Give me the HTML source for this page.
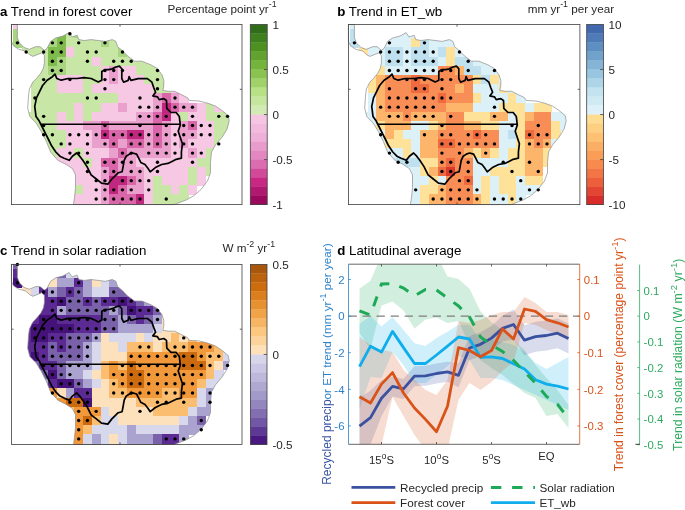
<!DOCTYPE html>
<html><head><meta charset="utf-8"><style>
html,body{margin:0;padding:0;background:#fff;overflow:hidden;}
svg{display:block;will-change:transform;}
text{font-family:"Liberation Sans", sans-serif;}
</style></head><body>
<svg width="685" height="510" viewBox="0 0 685 510">
<g transform="translate(0,0)">
<clipPath id="clipA"><polygon points="11.4,24.5 17.4,24.5 17.4,37.9 19.7,43.2 24.1,47.6 29.4,49.3 35.6,46.7 40.0,46.7 44.4,50.2 47.0,48.5 50.6,41.4 55.8,37.9 62.9,36.1 69.1,32.6 70.8,35.2 72.0,37.0 77.1,35.2 78.8,39.6 84.1,40.5 91.2,39.6 98.2,40.5 105.3,41.4 112.3,39.6 115.9,41.4 117.6,46.7 122.9,51.1 127.3,55.8 134.6,61.2 141.9,61.2 151.0,64.9 157.4,68.5 162.0,74.9 163.8,80.4 163.8,85.9 162.9,90.4 168.4,91.3 174.7,91.3 180.2,94.1 187.5,97.7 189.3,100.5 199.0,101.0 207.4,103.1 215.7,106.2 221.9,110.4 228.2,115.6 229.2,120.8 227.1,129.1 221.9,137.4 215.7,144.7 211.5,152.0 210.5,162.4 210.5,172.8 207.4,181.1 201.1,189.4 193.8,195.7 186.6,199.8 178.2,203.0 174.1,204.6 73.4,204.6 74.5,197.8 75.5,187.4 75.5,174.9 72.4,168.6 66.2,164.5 57.8,160.3 50.6,152.0 46.4,141.6 41.2,131.2 36.0,122.9 29.8,116.6 27.7,108.3 28.5,96.1 29.4,89.0 32.9,82.0 36.5,78.4 40.9,73.1 43.5,67.8 44.4,62.6 44.4,55.5 41.7,52.9 32.9,56.4 29.4,54.6 25.9,51.1 18.8,49.3 13.5,45.8 11.4,41.4"/></clipPath>
<g clip-path="url(#clipA)" shape-rendering="crispEdges">
<rect x="13.00" y="19.90" width="9.16" height="9.59" fill="#f6c8e3"/>
<rect x="13.00" y="29.09" width="9.16" height="9.59" fill="#a8d57f"/>
<rect x="48.02" y="29.09" width="9.16" height="9.59" fill="#a8d57f"/>
<rect x="56.78" y="29.09" width="9.16" height="9.59" fill="#7fbb4d"/>
<rect x="65.53" y="29.09" width="9.16" height="9.59" fill="#c8e6a5"/>
<rect x="74.28" y="29.09" width="9.16" height="9.59" fill="#a8d57f"/>
<rect x="83.04" y="29.09" width="9.16" height="9.59" fill="#c8e6a5"/>
<rect x="91.80" y="29.09" width="9.16" height="9.59" fill="#c8e6a5"/>
<rect x="100.55" y="29.09" width="9.16" height="9.59" fill="#c8e6a5"/>
<rect x="109.31" y="29.09" width="9.16" height="9.59" fill="#c8e6a5"/>
<rect x="13.00" y="38.27" width="9.16" height="9.59" fill="#a8d57f"/>
<rect x="21.76" y="38.27" width="9.16" height="9.59" fill="#a8d57f"/>
<rect x="30.51" y="38.27" width="9.16" height="9.59" fill="#c8e6a5"/>
<rect x="39.27" y="38.27" width="9.16" height="9.59" fill="#c8e6a5"/>
<rect x="48.02" y="38.27" width="9.16" height="9.59" fill="#a8d57f"/>
<rect x="56.78" y="38.27" width="9.16" height="9.59" fill="#7fbb4d"/>
<rect x="65.53" y="38.27" width="9.16" height="9.59" fill="#c8e6a5"/>
<rect x="74.28" y="38.27" width="9.16" height="9.59" fill="#c8e6a5"/>
<rect x="83.04" y="38.27" width="9.16" height="9.59" fill="#c8e6a5"/>
<rect x="91.80" y="38.27" width="9.16" height="9.59" fill="#c8e6a5"/>
<rect x="100.55" y="38.27" width="9.16" height="9.59" fill="#a8d57f"/>
<rect x="109.31" y="38.27" width="9.16" height="9.59" fill="#c8e6a5"/>
<rect x="118.06" y="38.27" width="9.16" height="9.59" fill="#c8e6a5"/>
<rect x="21.76" y="47.45" width="9.16" height="9.59" fill="#c8e6a5"/>
<rect x="30.51" y="47.45" width="9.16" height="9.59" fill="#c8e6a5"/>
<rect x="39.27" y="47.45" width="9.16" height="9.59" fill="#c8e6a5"/>
<rect x="48.02" y="47.45" width="9.16" height="9.59" fill="#7fbb4d"/>
<rect x="56.78" y="47.45" width="9.16" height="9.59" fill="#7fbb4d"/>
<rect x="65.53" y="47.45" width="9.16" height="9.59" fill="#f6c8e3"/>
<rect x="74.28" y="47.45" width="9.16" height="9.59" fill="#c8e6a5"/>
<rect x="83.04" y="47.45" width="9.16" height="9.59" fill="#c8e6a5"/>
<rect x="91.80" y="47.45" width="9.16" height="9.59" fill="#c8e6a5"/>
<rect x="100.55" y="47.45" width="9.16" height="9.59" fill="#c8e6a5"/>
<rect x="109.31" y="47.45" width="9.16" height="9.59" fill="#c8e6a5"/>
<rect x="118.06" y="47.45" width="9.16" height="9.59" fill="#a8d57f"/>
<rect x="126.82" y="47.45" width="9.16" height="9.59" fill="#c8e6a5"/>
<rect x="39.27" y="56.64" width="9.16" height="9.59" fill="#c8e6a5"/>
<rect x="48.02" y="56.64" width="9.16" height="9.59" fill="#7fbb4d"/>
<rect x="56.78" y="56.64" width="9.16" height="9.59" fill="#a8d57f"/>
<rect x="65.53" y="56.64" width="9.16" height="9.59" fill="#c8e6a5"/>
<rect x="74.28" y="56.64" width="9.16" height="9.59" fill="#c8e6a5"/>
<rect x="83.04" y="56.64" width="9.16" height="9.59" fill="#c8e6a5"/>
<rect x="91.80" y="56.64" width="9.16" height="9.59" fill="#f6c8e3"/>
<rect x="100.55" y="56.64" width="9.16" height="9.59" fill="#c8e6a5"/>
<rect x="109.31" y="56.64" width="9.16" height="9.59" fill="#c8e6a5"/>
<rect x="118.06" y="56.64" width="9.16" height="9.59" fill="#c8e6a5"/>
<rect x="126.82" y="56.64" width="9.16" height="9.59" fill="#c8e6a5"/>
<rect x="135.57" y="56.64" width="9.16" height="9.59" fill="#c8e6a5"/>
<rect x="144.33" y="56.64" width="9.16" height="9.59" fill="#c8e6a5"/>
<rect x="39.27" y="65.83" width="9.16" height="9.59" fill="#c8e6a5"/>
<rect x="48.02" y="65.83" width="9.16" height="9.59" fill="#a8d57f"/>
<rect x="56.78" y="65.83" width="9.16" height="9.59" fill="#a8d57f"/>
<rect x="65.53" y="65.83" width="9.16" height="9.59" fill="#c8e6a5"/>
<rect x="74.28" y="65.83" width="9.16" height="9.59" fill="#c8e6a5"/>
<rect x="83.04" y="65.83" width="9.16" height="9.59" fill="#c8e6a5"/>
<rect x="91.80" y="65.83" width="9.16" height="9.59" fill="#c8e6a5"/>
<rect x="100.55" y="65.83" width="9.16" height="9.59" fill="#f6c8e3"/>
<rect x="109.31" y="65.83" width="9.16" height="9.59" fill="#eaa0cd"/>
<rect x="118.06" y="65.83" width="9.16" height="9.59" fill="#f6c8e3"/>
<rect x="126.82" y="65.83" width="9.16" height="9.59" fill="#f6c8e3"/>
<rect x="135.57" y="65.83" width="9.16" height="9.59" fill="#c8e6a5"/>
<rect x="144.33" y="65.83" width="9.16" height="9.59" fill="#c8e6a5"/>
<rect x="153.08" y="65.83" width="9.16" height="9.59" fill="#c8e6a5"/>
<rect x="30.51" y="75.01" width="9.16" height="9.59" fill="#c8e6a5"/>
<rect x="39.27" y="75.01" width="9.16" height="9.59" fill="#c8e6a5"/>
<rect x="48.02" y="75.01" width="9.16" height="9.59" fill="#c8e6a5"/>
<rect x="56.78" y="75.01" width="9.16" height="9.59" fill="#f6c8e3"/>
<rect x="65.53" y="75.01" width="9.16" height="9.59" fill="#f6c8e3"/>
<rect x="74.28" y="75.01" width="9.16" height="9.59" fill="#f6c8e3"/>
<rect x="83.04" y="75.01" width="9.16" height="9.59" fill="#c8e6a5"/>
<rect x="91.80" y="75.01" width="9.16" height="9.59" fill="#c8e6a5"/>
<rect x="100.55" y="75.01" width="9.16" height="9.59" fill="#f6c8e3"/>
<rect x="109.31" y="75.01" width="9.16" height="9.59" fill="#eaa0cd"/>
<rect x="118.06" y="75.01" width="9.16" height="9.59" fill="#f6c8e3"/>
<rect x="126.82" y="75.01" width="9.16" height="9.59" fill="#f6c8e3"/>
<rect x="135.57" y="75.01" width="9.16" height="9.59" fill="#f6c8e3"/>
<rect x="144.33" y="75.01" width="9.16" height="9.59" fill="#c8e6a5"/>
<rect x="153.08" y="75.01" width="9.16" height="9.59" fill="#c8e6a5"/>
<rect x="161.84" y="75.01" width="9.16" height="9.59" fill="#c8e6a5"/>
<rect x="30.51" y="84.19" width="9.16" height="9.59" fill="#c8e6a5"/>
<rect x="39.27" y="84.19" width="9.16" height="9.59" fill="#c8e6a5"/>
<rect x="48.02" y="84.19" width="9.16" height="9.59" fill="#c8e6a5"/>
<rect x="56.78" y="84.19" width="9.16" height="9.59" fill="#f6c8e3"/>
<rect x="65.53" y="84.19" width="9.16" height="9.59" fill="#f6c8e3"/>
<rect x="74.28" y="84.19" width="9.16" height="9.59" fill="#f6c8e3"/>
<rect x="83.04" y="84.19" width="9.16" height="9.59" fill="#c8e6a5"/>
<rect x="91.80" y="84.19" width="9.16" height="9.59" fill="#f6c8e3"/>
<rect x="100.55" y="84.19" width="9.16" height="9.59" fill="#f6c8e3"/>
<rect x="109.31" y="84.19" width="9.16" height="9.59" fill="#f6c8e3"/>
<rect x="118.06" y="84.19" width="9.16" height="9.59" fill="#f6c8e3"/>
<rect x="126.82" y="84.19" width="9.16" height="9.59" fill="#f6c8e3"/>
<rect x="135.57" y="84.19" width="9.16" height="9.59" fill="#f6c8e3"/>
<rect x="144.33" y="84.19" width="9.16" height="9.59" fill="#f6c8e3"/>
<rect x="153.08" y="84.19" width="9.16" height="9.59" fill="#c8e6a5"/>
<rect x="161.84" y="84.19" width="9.16" height="9.59" fill="#c8e6a5"/>
<rect x="170.59" y="84.19" width="9.16" height="9.59" fill="#f6c8e3"/>
<rect x="30.51" y="93.38" width="9.16" height="9.59" fill="#c8e6a5"/>
<rect x="39.27" y="93.38" width="9.16" height="9.59" fill="#c8e6a5"/>
<rect x="48.02" y="93.38" width="9.16" height="9.59" fill="#c8e6a5"/>
<rect x="56.78" y="93.38" width="9.16" height="9.59" fill="#c8e6a5"/>
<rect x="65.53" y="93.38" width="9.16" height="9.59" fill="#c8e6a5"/>
<rect x="74.28" y="93.38" width="9.16" height="9.59" fill="#c8e6a5"/>
<rect x="83.04" y="93.38" width="9.16" height="9.59" fill="#c8e6a5"/>
<rect x="91.80" y="93.38" width="9.16" height="9.59" fill="#c8e6a5"/>
<rect x="100.55" y="93.38" width="9.16" height="9.59" fill="#c8e6a5"/>
<rect x="109.31" y="93.38" width="9.16" height="9.59" fill="#c8e6a5"/>
<rect x="118.06" y="93.38" width="9.16" height="9.59" fill="#f6c8e3"/>
<rect x="126.82" y="93.38" width="9.16" height="9.59" fill="#f6c8e3"/>
<rect x="135.57" y="93.38" width="9.16" height="9.59" fill="#f6c8e3"/>
<rect x="144.33" y="93.38" width="9.16" height="9.59" fill="#f6c8e3"/>
<rect x="153.08" y="93.38" width="9.16" height="9.59" fill="#eaa0cd"/>
<rect x="161.84" y="93.38" width="9.16" height="9.59" fill="#d866a8"/>
<rect x="170.59" y="93.38" width="9.16" height="9.59" fill="#eaa0cd"/>
<rect x="179.35" y="93.38" width="9.16" height="9.59" fill="#f6c8e3"/>
<rect x="30.51" y="102.56" width="9.16" height="9.59" fill="#c8e6a5"/>
<rect x="39.27" y="102.56" width="9.16" height="9.59" fill="#c8e6a5"/>
<rect x="48.02" y="102.56" width="9.16" height="9.59" fill="#c8e6a5"/>
<rect x="56.78" y="102.56" width="9.16" height="9.59" fill="#c8e6a5"/>
<rect x="65.53" y="102.56" width="9.16" height="9.59" fill="#c8e6a5"/>
<rect x="74.28" y="102.56" width="9.16" height="9.59" fill="#f6c8e3"/>
<rect x="83.04" y="102.56" width="9.16" height="9.59" fill="#c8e6a5"/>
<rect x="91.80" y="102.56" width="9.16" height="9.59" fill="#c8e6a5"/>
<rect x="100.55" y="102.56" width="9.16" height="9.59" fill="#f6c8e3"/>
<rect x="109.31" y="102.56" width="9.16" height="9.59" fill="#f6c8e3"/>
<rect x="118.06" y="102.56" width="9.16" height="9.59" fill="#eaa0cd"/>
<rect x="126.82" y="102.56" width="9.16" height="9.59" fill="#f6c8e3"/>
<rect x="135.57" y="102.56" width="9.16" height="9.59" fill="#f6c8e3"/>
<rect x="144.33" y="102.56" width="9.16" height="9.59" fill="#f6c8e3"/>
<rect x="153.08" y="102.56" width="9.16" height="9.59" fill="#eaa0cd"/>
<rect x="161.84" y="102.56" width="9.16" height="9.59" fill="#c0287f"/>
<rect x="170.59" y="102.56" width="9.16" height="9.59" fill="#d866a8"/>
<rect x="179.35" y="102.56" width="9.16" height="9.59" fill="#eaa0cd"/>
<rect x="188.10" y="102.56" width="9.16" height="9.59" fill="#eaa0cd"/>
<rect x="196.86" y="102.56" width="9.16" height="9.59" fill="#f6c8e3"/>
<rect x="205.61" y="102.56" width="9.16" height="9.59" fill="#c8e6a5"/>
<rect x="214.37" y="102.56" width="9.16" height="9.59" fill="#f6c8e3"/>
<rect x="21.76" y="111.75" width="9.16" height="9.59" fill="#c8e6a5"/>
<rect x="30.51" y="111.75" width="9.16" height="9.59" fill="#c8e6a5"/>
<rect x="39.27" y="111.75" width="9.16" height="9.59" fill="#c8e6a5"/>
<rect x="48.02" y="111.75" width="9.16" height="9.59" fill="#c8e6a5"/>
<rect x="56.78" y="111.75" width="9.16" height="9.59" fill="#f6c8e3"/>
<rect x="65.53" y="111.75" width="9.16" height="9.59" fill="#c8e6a5"/>
<rect x="74.28" y="111.75" width="9.16" height="9.59" fill="#f6c8e3"/>
<rect x="83.04" y="111.75" width="9.16" height="9.59" fill="#c8e6a5"/>
<rect x="91.80" y="111.75" width="9.16" height="9.59" fill="#f6c8e3"/>
<rect x="100.55" y="111.75" width="9.16" height="9.59" fill="#f6c8e3"/>
<rect x="109.31" y="111.75" width="9.16" height="9.59" fill="#f6c8e3"/>
<rect x="118.06" y="111.75" width="9.16" height="9.59" fill="#f6c8e3"/>
<rect x="126.82" y="111.75" width="9.16" height="9.59" fill="#f6c8e3"/>
<rect x="135.57" y="111.75" width="9.16" height="9.59" fill="#eaa0cd"/>
<rect x="144.33" y="111.75" width="9.16" height="9.59" fill="#eaa0cd"/>
<rect x="153.08" y="111.75" width="9.16" height="9.59" fill="#d866a8"/>
<rect x="161.84" y="111.75" width="9.16" height="9.59" fill="#c0287f"/>
<rect x="170.59" y="111.75" width="9.16" height="9.59" fill="#f6c8e3"/>
<rect x="179.35" y="111.75" width="9.16" height="9.59" fill="#c8e6a5"/>
<rect x="188.10" y="111.75" width="9.16" height="9.59" fill="#f6c8e3"/>
<rect x="196.86" y="111.75" width="9.16" height="9.59" fill="#f6c8e3"/>
<rect x="205.61" y="111.75" width="9.16" height="9.59" fill="#c8e6a5"/>
<rect x="214.37" y="111.75" width="9.16" height="9.59" fill="#c8e6a5"/>
<rect x="223.12" y="111.75" width="9.16" height="9.59" fill="#c8e6a5"/>
<rect x="30.51" y="120.94" width="9.16" height="9.59" fill="#c8e6a5"/>
<rect x="39.27" y="120.94" width="9.16" height="9.59" fill="#c8e6a5"/>
<rect x="48.02" y="120.94" width="9.16" height="9.59" fill="#c8e6a5"/>
<rect x="56.78" y="120.94" width="9.16" height="9.59" fill="#f6c8e3"/>
<rect x="65.53" y="120.94" width="9.16" height="9.59" fill="#f6c8e3"/>
<rect x="74.28" y="120.94" width="9.16" height="9.59" fill="#f6c8e3"/>
<rect x="83.04" y="120.94" width="9.16" height="9.59" fill="#eaa0cd"/>
<rect x="91.80" y="120.94" width="9.16" height="9.59" fill="#eaa0cd"/>
<rect x="100.55" y="120.94" width="9.16" height="9.59" fill="#d866a8"/>
<rect x="109.31" y="120.94" width="9.16" height="9.59" fill="#eaa0cd"/>
<rect x="118.06" y="120.94" width="9.16" height="9.59" fill="#eaa0cd"/>
<rect x="126.82" y="120.94" width="9.16" height="9.59" fill="#eaa0cd"/>
<rect x="135.57" y="120.94" width="9.16" height="9.59" fill="#eaa0cd"/>
<rect x="144.33" y="120.94" width="9.16" height="9.59" fill="#eaa0cd"/>
<rect x="153.08" y="120.94" width="9.16" height="9.59" fill="#d866a8"/>
<rect x="161.84" y="120.94" width="9.16" height="9.59" fill="#eaa0cd"/>
<rect x="170.59" y="120.94" width="9.16" height="9.59" fill="#f6c8e3"/>
<rect x="179.35" y="120.94" width="9.16" height="9.59" fill="#eaa0cd"/>
<rect x="188.10" y="120.94" width="9.16" height="9.59" fill="#d866a8"/>
<rect x="196.86" y="120.94" width="9.16" height="9.59" fill="#f6c8e3"/>
<rect x="205.61" y="120.94" width="9.16" height="9.59" fill="#f6c8e3"/>
<rect x="214.37" y="120.94" width="9.16" height="9.59" fill="#c8e6a5"/>
<rect x="223.12" y="120.94" width="9.16" height="9.59" fill="#c8e6a5"/>
<rect x="39.27" y="130.12" width="9.16" height="9.59" fill="#c8e6a5"/>
<rect x="48.02" y="130.12" width="9.16" height="9.59" fill="#c8e6a5"/>
<rect x="56.78" y="130.12" width="9.16" height="9.59" fill="#c8e6a5"/>
<rect x="65.53" y="130.12" width="9.16" height="9.59" fill="#f6c8e3"/>
<rect x="74.28" y="130.12" width="9.16" height="9.59" fill="#f6c8e3"/>
<rect x="83.04" y="130.12" width="9.16" height="9.59" fill="#f6c8e3"/>
<rect x="91.80" y="130.12" width="9.16" height="9.59" fill="#eaa0cd"/>
<rect x="100.55" y="130.12" width="9.16" height="9.59" fill="#c0287f"/>
<rect x="109.31" y="130.12" width="9.16" height="9.59" fill="#d866a8"/>
<rect x="118.06" y="130.12" width="9.16" height="9.59" fill="#d866a8"/>
<rect x="126.82" y="130.12" width="9.16" height="9.59" fill="#c0287f"/>
<rect x="135.57" y="130.12" width="9.16" height="9.59" fill="#c0287f"/>
<rect x="144.33" y="130.12" width="9.16" height="9.59" fill="#eaa0cd"/>
<rect x="153.08" y="130.12" width="9.16" height="9.59" fill="#d866a8"/>
<rect x="161.84" y="130.12" width="9.16" height="9.59" fill="#eaa0cd"/>
<rect x="170.59" y="130.12" width="9.16" height="9.59" fill="#f6c8e3"/>
<rect x="179.35" y="130.12" width="9.16" height="9.59" fill="#eaa0cd"/>
<rect x="188.10" y="130.12" width="9.16" height="9.59" fill="#eaa0cd"/>
<rect x="196.86" y="130.12" width="9.16" height="9.59" fill="#f6c8e3"/>
<rect x="205.61" y="130.12" width="9.16" height="9.59" fill="#f6c8e3"/>
<rect x="214.37" y="130.12" width="9.16" height="9.59" fill="#c8e6a5"/>
<rect x="223.12" y="130.12" width="9.16" height="9.59" fill="#c8e6a5"/>
<rect x="39.27" y="139.31" width="9.16" height="9.59" fill="#c8e6a5"/>
<rect x="48.02" y="139.31" width="9.16" height="9.59" fill="#c8e6a5"/>
<rect x="56.78" y="139.31" width="9.16" height="9.59" fill="#c8e6a5"/>
<rect x="65.53" y="139.31" width="9.16" height="9.59" fill="#f6c8e3"/>
<rect x="74.28" y="139.31" width="9.16" height="9.59" fill="#f6c8e3"/>
<rect x="83.04" y="139.31" width="9.16" height="9.59" fill="#f6c8e3"/>
<rect x="91.80" y="139.31" width="9.16" height="9.59" fill="#eaa0cd"/>
<rect x="100.55" y="139.31" width="9.16" height="9.59" fill="#eaa0cd"/>
<rect x="109.31" y="139.31" width="9.16" height="9.59" fill="#d866a8"/>
<rect x="118.06" y="139.31" width="9.16" height="9.59" fill="#eaa0cd"/>
<rect x="126.82" y="139.31" width="9.16" height="9.59" fill="#d866a8"/>
<rect x="135.57" y="139.31" width="9.16" height="9.59" fill="#d866a8"/>
<rect x="144.33" y="139.31" width="9.16" height="9.59" fill="#eaa0cd"/>
<rect x="153.08" y="139.31" width="9.16" height="9.59" fill="#d866a8"/>
<rect x="161.84" y="139.31" width="9.16" height="9.59" fill="#eaa0cd"/>
<rect x="170.59" y="139.31" width="9.16" height="9.59" fill="#f6c8e3"/>
<rect x="179.35" y="139.31" width="9.16" height="9.59" fill="#eaa0cd"/>
<rect x="188.10" y="139.31" width="9.16" height="9.59" fill="#f6c8e3"/>
<rect x="196.86" y="139.31" width="9.16" height="9.59" fill="#f6c8e3"/>
<rect x="205.61" y="139.31" width="9.16" height="9.59" fill="#f6c8e3"/>
<rect x="214.37" y="139.31" width="9.16" height="9.59" fill="#c8e6a5"/>
<rect x="48.02" y="148.49" width="9.16" height="9.59" fill="#c8e6a5"/>
<rect x="56.78" y="148.49" width="9.16" height="9.59" fill="#f6c8e3"/>
<rect x="65.53" y="148.49" width="9.16" height="9.59" fill="#f6c8e3"/>
<rect x="74.28" y="148.49" width="9.16" height="9.59" fill="#c8e6a5"/>
<rect x="83.04" y="148.49" width="9.16" height="9.59" fill="#f6c8e3"/>
<rect x="91.80" y="148.49" width="9.16" height="9.59" fill="#f6c8e3"/>
<rect x="100.55" y="148.49" width="9.16" height="9.59" fill="#f6c8e3"/>
<rect x="109.31" y="148.49" width="9.16" height="9.59" fill="#eaa0cd"/>
<rect x="118.06" y="148.49" width="9.16" height="9.59" fill="#d866a8"/>
<rect x="126.82" y="148.49" width="9.16" height="9.59" fill="#eaa0cd"/>
<rect x="135.57" y="148.49" width="9.16" height="9.59" fill="#eaa0cd"/>
<rect x="144.33" y="148.49" width="9.16" height="9.59" fill="#eaa0cd"/>
<rect x="153.08" y="148.49" width="9.16" height="9.59" fill="#eaa0cd"/>
<rect x="161.84" y="148.49" width="9.16" height="9.59" fill="#eaa0cd"/>
<rect x="170.59" y="148.49" width="9.16" height="9.59" fill="#f6c8e3"/>
<rect x="179.35" y="148.49" width="9.16" height="9.59" fill="#f6c8e3"/>
<rect x="188.10" y="148.49" width="9.16" height="9.59" fill="#eaa0cd"/>
<rect x="196.86" y="148.49" width="9.16" height="9.59" fill="#f6c8e3"/>
<rect x="205.61" y="148.49" width="9.16" height="9.59" fill="#c8e6a5"/>
<rect x="48.02" y="157.68" width="9.16" height="9.59" fill="#c8e6a5"/>
<rect x="56.78" y="157.68" width="9.16" height="9.59" fill="#f6c8e3"/>
<rect x="65.53" y="157.68" width="9.16" height="9.59" fill="#f6c8e3"/>
<rect x="74.28" y="157.68" width="9.16" height="9.59" fill="#f6c8e3"/>
<rect x="83.04" y="157.68" width="9.16" height="9.59" fill="#c8e6a5"/>
<rect x="91.80" y="157.68" width="9.16" height="9.59" fill="#f6c8e3"/>
<rect x="100.55" y="157.68" width="9.16" height="9.59" fill="#d866a8"/>
<rect x="109.31" y="157.68" width="9.16" height="9.59" fill="#d866a8"/>
<rect x="118.06" y="157.68" width="9.16" height="9.59" fill="#eaa0cd"/>
<rect x="126.82" y="157.68" width="9.16" height="9.59" fill="#eaa0cd"/>
<rect x="135.57" y="157.68" width="9.16" height="9.59" fill="#f6c8e3"/>
<rect x="144.33" y="157.68" width="9.16" height="9.59" fill="#f6c8e3"/>
<rect x="153.08" y="157.68" width="9.16" height="9.59" fill="#f6c8e3"/>
<rect x="161.84" y="157.68" width="9.16" height="9.59" fill="#f6c8e3"/>
<rect x="170.59" y="157.68" width="9.16" height="9.59" fill="#f6c8e3"/>
<rect x="179.35" y="157.68" width="9.16" height="9.59" fill="#f6c8e3"/>
<rect x="188.10" y="157.68" width="9.16" height="9.59" fill="#f6c8e3"/>
<rect x="196.86" y="157.68" width="9.16" height="9.59" fill="#c8e6a5"/>
<rect x="205.61" y="157.68" width="9.16" height="9.59" fill="#c8e6a5"/>
<rect x="65.53" y="166.86" width="9.16" height="9.59" fill="#f6c8e3"/>
<rect x="74.28" y="166.86" width="9.16" height="9.59" fill="#f6c8e3"/>
<rect x="83.04" y="166.86" width="9.16" height="9.59" fill="#f6c8e3"/>
<rect x="91.80" y="166.86" width="9.16" height="9.59" fill="#f6c8e3"/>
<rect x="100.55" y="166.86" width="9.16" height="9.59" fill="#eaa0cd"/>
<rect x="109.31" y="166.86" width="9.16" height="9.59" fill="#d866a8"/>
<rect x="118.06" y="166.86" width="9.16" height="9.59" fill="#eaa0cd"/>
<rect x="126.82" y="166.86" width="9.16" height="9.59" fill="#eaa0cd"/>
<rect x="135.57" y="166.86" width="9.16" height="9.59" fill="#eaa0cd"/>
<rect x="144.33" y="166.86" width="9.16" height="9.59" fill="#f6c8e3"/>
<rect x="153.08" y="166.86" width="9.16" height="9.59" fill="#f6c8e3"/>
<rect x="161.84" y="166.86" width="9.16" height="9.59" fill="#f6c8e3"/>
<rect x="170.59" y="166.86" width="9.16" height="9.59" fill="#f6c8e3"/>
<rect x="179.35" y="166.86" width="9.16" height="9.59" fill="#f6c8e3"/>
<rect x="188.10" y="166.86" width="9.16" height="9.59" fill="#c8e6a5"/>
<rect x="196.86" y="166.86" width="9.16" height="9.59" fill="#f6c8e3"/>
<rect x="205.61" y="166.86" width="9.16" height="9.59" fill="#c8e6a5"/>
<rect x="74.28" y="176.05" width="9.16" height="9.59" fill="#f6c8e3"/>
<rect x="83.04" y="176.05" width="9.16" height="9.59" fill="#f6c8e3"/>
<rect x="91.80" y="176.05" width="9.16" height="9.59" fill="#f6c8e3"/>
<rect x="100.55" y="176.05" width="9.16" height="9.59" fill="#eaa0cd"/>
<rect x="109.31" y="176.05" width="9.16" height="9.59" fill="#c0287f"/>
<rect x="118.06" y="176.05" width="9.16" height="9.59" fill="#c0287f"/>
<rect x="126.82" y="176.05" width="9.16" height="9.59" fill="#d866a8"/>
<rect x="135.57" y="176.05" width="9.16" height="9.59" fill="#eaa0cd"/>
<rect x="144.33" y="176.05" width="9.16" height="9.59" fill="#f6c8e3"/>
<rect x="153.08" y="176.05" width="9.16" height="9.59" fill="#c8e6a5"/>
<rect x="161.84" y="176.05" width="9.16" height="9.59" fill="#f6c8e3"/>
<rect x="170.59" y="176.05" width="9.16" height="9.59" fill="#f6c8e3"/>
<rect x="179.35" y="176.05" width="9.16" height="9.59" fill="#f6c8e3"/>
<rect x="188.10" y="176.05" width="9.16" height="9.59" fill="#c8e6a5"/>
<rect x="196.86" y="176.05" width="9.16" height="9.59" fill="#f6c8e3"/>
<rect x="74.28" y="185.23" width="9.16" height="9.59" fill="#c8e6a5"/>
<rect x="83.04" y="185.23" width="9.16" height="9.59" fill="#f6c8e3"/>
<rect x="91.80" y="185.23" width="9.16" height="9.59" fill="#f6c8e3"/>
<rect x="100.55" y="185.23" width="9.16" height="9.59" fill="#eaa0cd"/>
<rect x="109.31" y="185.23" width="9.16" height="9.59" fill="#c0287f"/>
<rect x="118.06" y="185.23" width="9.16" height="9.59" fill="#d866a8"/>
<rect x="126.82" y="185.23" width="9.16" height="9.59" fill="#eaa0cd"/>
<rect x="135.57" y="185.23" width="9.16" height="9.59" fill="#eaa0cd"/>
<rect x="144.33" y="185.23" width="9.16" height="9.59" fill="#f6c8e3"/>
<rect x="153.08" y="185.23" width="9.16" height="9.59" fill="#c8e6a5"/>
<rect x="161.84" y="185.23" width="9.16" height="9.59" fill="#c8e6a5"/>
<rect x="170.59" y="185.23" width="9.16" height="9.59" fill="#f6c8e3"/>
<rect x="179.35" y="185.23" width="9.16" height="9.59" fill="#c8e6a5"/>
<rect x="188.10" y="185.23" width="9.16" height="9.59" fill="#f6c8e3"/>
<rect x="74.28" y="194.42" width="9.16" height="11.59" fill="#f6c8e3"/>
<rect x="83.04" y="194.42" width="9.16" height="11.59" fill="#f6c8e3"/>
<rect x="91.80" y="194.42" width="9.16" height="11.59" fill="#f6c8e3"/>
<rect x="100.55" y="194.42" width="9.16" height="11.59" fill="#eaa0cd"/>
<rect x="109.31" y="194.42" width="9.16" height="11.59" fill="#d866a8"/>
<rect x="118.06" y="194.42" width="9.16" height="11.59" fill="#d866a8"/>
<rect x="126.82" y="194.42" width="9.16" height="11.59" fill="#d866a8"/>
<rect x="135.57" y="194.42" width="9.16" height="11.59" fill="#c0287f"/>
<rect x="144.33" y="194.42" width="9.16" height="11.59" fill="#f6c8e3"/>
<rect x="153.08" y="194.42" width="9.16" height="11.59" fill="#c8e6a5"/>
<rect x="161.84" y="194.42" width="9.16" height="11.59" fill="#c8e6a5"/>
<rect x="170.59" y="194.42" width="9.16" height="11.59" fill="#c8e6a5"/>
<rect x="179.35" y="194.42" width="9.16" height="11.59" fill="#c8e6a5"/>
</g>
<polygon points="11.4,24.5 17.4,24.5 17.4,37.9 19.7,43.2 24.1,47.6 29.4,49.3 35.6,46.7 40.0,46.7 44.4,50.2 47.0,48.5 50.6,41.4 55.8,37.9 62.9,36.1 69.1,32.6 70.8,35.2 72.0,37.0 77.1,35.2 78.8,39.6 84.1,40.5 91.2,39.6 98.2,40.5 105.3,41.4 112.3,39.6 115.9,41.4 117.6,46.7 122.9,51.1 127.3,55.8 134.6,61.2 141.9,61.2 151.0,64.9 157.4,68.5 162.0,74.9 163.8,80.4 163.8,85.9 162.9,90.4 168.4,91.3 174.7,91.3 180.2,94.1 187.5,97.7 189.3,100.5 199.0,101.0 207.4,103.1 215.7,106.2 221.9,110.4 228.2,115.6 229.2,120.8 227.1,129.1 221.9,137.4 215.7,144.7 211.5,152.0 210.5,162.4 210.5,172.8 207.4,181.1 201.1,189.4 193.8,195.7 186.6,199.8 178.2,203.0 174.1,204.6 73.4,204.6 74.5,197.8 75.5,187.4 75.5,174.9 72.4,168.6 66.2,164.5 57.8,160.3 50.6,152.0 46.4,141.6 41.2,131.2 36.0,122.9 29.8,116.6 27.7,108.3 28.5,96.1 29.4,89.0 32.9,82.0 36.5,78.4 40.9,73.1 43.5,67.8 44.4,62.6 44.4,55.5 41.7,52.9 32.9,56.4 29.4,54.6 25.9,51.1 18.8,49.3 13.5,45.8 11.4,41.4" fill="none" stroke="#8c8c8c" stroke-width="0.7"/>
<polygon points="34.7,106.7 36.5,97.9 39.1,92.6 42.6,85.5 47.1,80.2 52.4,76.7 55.0,74.1 56.8,78.5 61.2,80.2 68.2,78.5 77.1,78.5 84.1,77.6 91.2,78.5 94.7,80.2 98.2,82.0 101.8,80.2 101.8,71.4 105.3,69.6 108.8,69.6 112.3,68.8 115.9,67.0 119.4,66.1 121.8,68.8 121.8,71.3 121.8,78.6 123.6,82.2 128.2,80.4 129.1,76.7 130.9,80.4 138.2,78.6 147.4,78.6 151.9,82.2 153.8,87.7 155.6,92.3 152.8,95.9 157.4,96.8 159.2,99.6 163.8,98.6 166.5,100.5 166.8,108.3 171.0,112.5 176.2,112.5 179.3,116.6 180.3,125.0 178.2,131.2 180.3,137.4 182.4,143.7 181.4,152.0 181.4,158.2 176.2,159.3 172.0,161.4 167.8,163.4 161.6,164.5 155.4,167.6 150.2,171.8 148.1,168.6 145.0,164.5 140.8,162.4 138.7,158.2 136.6,154.1 132.5,153.0 129.4,154.1 126.2,156.2 124.2,160.3 123.1,166.6 122.1,171.8 118.2,172.8 111.9,179.0 107.8,184.2 101.5,183.2 96.3,179.0 91.1,174.9 87.0,166.6 82.8,160.3 79.7,156.2 76.6,153.0 72.4,156.2 69.3,160.3 64.1,158.2 59.9,156.2 55.8,152.0 51.6,145.8 48.5,139.5 45.4,133.3 42.2,127.0 39.1,120.8 36.0,116.6 35.0,108.3" fill="none" stroke="#000" stroke-width="1.7" stroke-linejoin="round"/>
<line x1="40.5" y1="124.3" x2="180.0" y2="124.3" stroke="#000" stroke-width="1.5"/>
<circle cx="69.93" cy="33.69" r="1.7" fill="#000"/>
<circle cx="17.40" cy="42.87" r="1.7" fill="#000"/>
<circle cx="52.42" cy="42.87" r="1.7" fill="#000"/>
<circle cx="61.18" cy="42.87" r="1.7" fill="#000"/>
<circle cx="78.69" cy="42.87" r="1.7" fill="#000"/>
<circle cx="104.95" cy="42.87" r="1.7" fill="#000"/>
<circle cx="26.16" cy="52.05" r="1.7" fill="#000"/>
<circle cx="43.66" cy="52.05" r="1.7" fill="#000"/>
<circle cx="52.42" cy="52.05" r="1.7" fill="#000"/>
<circle cx="61.18" cy="52.05" r="1.7" fill="#000"/>
<circle cx="87.44" cy="52.05" r="1.7" fill="#000"/>
<circle cx="96.19" cy="52.05" r="1.7" fill="#000"/>
<circle cx="122.46" cy="52.05" r="1.7" fill="#000"/>
<circle cx="52.42" cy="61.24" r="1.7" fill="#000"/>
<circle cx="61.18" cy="61.24" r="1.7" fill="#000"/>
<circle cx="87.44" cy="61.24" r="1.7" fill="#000"/>
<circle cx="113.71" cy="61.24" r="1.7" fill="#000"/>
<circle cx="122.46" cy="61.24" r="1.7" fill="#000"/>
<circle cx="131.22" cy="61.24" r="1.7" fill="#000"/>
<circle cx="52.42" cy="70.43" r="1.7" fill="#000"/>
<circle cx="61.18" cy="70.43" r="1.7" fill="#000"/>
<circle cx="104.95" cy="70.43" r="1.7" fill="#000"/>
<circle cx="113.71" cy="70.43" r="1.7" fill="#000"/>
<circle cx="122.46" cy="70.43" r="1.7" fill="#000"/>
<circle cx="157.48" cy="70.43" r="1.7" fill="#000"/>
<circle cx="43.66" cy="79.61" r="1.7" fill="#000"/>
<circle cx="69.93" cy="79.61" r="1.7" fill="#000"/>
<circle cx="104.95" cy="79.61" r="1.7" fill="#000"/>
<circle cx="113.71" cy="79.61" r="1.7" fill="#000"/>
<circle cx="157.48" cy="79.61" r="1.7" fill="#000"/>
<circle cx="104.95" cy="88.80" r="1.7" fill="#000"/>
<circle cx="157.48" cy="88.80" r="1.7" fill="#000"/>
<circle cx="34.91" cy="97.98" r="1.7" fill="#000"/>
<circle cx="87.44" cy="97.98" r="1.7" fill="#000"/>
<circle cx="96.19" cy="97.98" r="1.7" fill="#000"/>
<circle cx="139.97" cy="97.98" r="1.7" fill="#000"/>
<circle cx="174.99" cy="97.98" r="1.7" fill="#000"/>
<circle cx="139.97" cy="107.17" r="1.7" fill="#000"/>
<circle cx="148.73" cy="107.17" r="1.7" fill="#000"/>
<circle cx="157.48" cy="107.17" r="1.7" fill="#000"/>
<circle cx="174.99" cy="107.17" r="1.7" fill="#000"/>
<circle cx="183.75" cy="107.17" r="1.7" fill="#000"/>
<circle cx="192.50" cy="107.17" r="1.7" fill="#000"/>
<circle cx="43.66" cy="116.35" r="1.7" fill="#000"/>
<circle cx="139.97" cy="116.35" r="1.7" fill="#000"/>
<circle cx="148.73" cy="116.35" r="1.7" fill="#000"/>
<circle cx="157.48" cy="116.35" r="1.7" fill="#000"/>
<circle cx="166.24" cy="116.35" r="1.7" fill="#000"/>
<circle cx="192.50" cy="116.35" r="1.7" fill="#000"/>
<circle cx="218.77" cy="116.35" r="1.7" fill="#000"/>
<circle cx="227.52" cy="116.35" r="1.7" fill="#000"/>
<circle cx="43.66" cy="125.54" r="1.7" fill="#000"/>
<circle cx="104.95" cy="125.54" r="1.7" fill="#000"/>
<circle cx="139.97" cy="125.54" r="1.7" fill="#000"/>
<circle cx="166.24" cy="125.54" r="1.7" fill="#000"/>
<circle cx="183.75" cy="125.54" r="1.7" fill="#000"/>
<circle cx="192.50" cy="125.54" r="1.7" fill="#000"/>
<circle cx="201.26" cy="125.54" r="1.7" fill="#000"/>
<circle cx="210.01" cy="125.54" r="1.7" fill="#000"/>
<circle cx="43.66" cy="134.72" r="1.7" fill="#000"/>
<circle cx="52.42" cy="134.72" r="1.7" fill="#000"/>
<circle cx="69.93" cy="134.72" r="1.7" fill="#000"/>
<circle cx="78.69" cy="134.72" r="1.7" fill="#000"/>
<circle cx="87.44" cy="134.72" r="1.7" fill="#000"/>
<circle cx="96.19" cy="134.72" r="1.7" fill="#000"/>
<circle cx="104.95" cy="134.72" r="1.7" fill="#000"/>
<circle cx="113.71" cy="134.72" r="1.7" fill="#000"/>
<circle cx="122.46" cy="134.72" r="1.7" fill="#000"/>
<circle cx="131.22" cy="134.72" r="1.7" fill="#000"/>
<circle cx="139.97" cy="134.72" r="1.7" fill="#000"/>
<circle cx="148.73" cy="134.72" r="1.7" fill="#000"/>
<circle cx="157.48" cy="134.72" r="1.7" fill="#000"/>
<circle cx="166.24" cy="134.72" r="1.7" fill="#000"/>
<circle cx="174.99" cy="134.72" r="1.7" fill="#000"/>
<circle cx="183.75" cy="134.72" r="1.7" fill="#000"/>
<circle cx="192.50" cy="134.72" r="1.7" fill="#000"/>
<circle cx="201.26" cy="134.72" r="1.7" fill="#000"/>
<circle cx="210.01" cy="134.72" r="1.7" fill="#000"/>
<circle cx="61.18" cy="143.91" r="1.7" fill="#000"/>
<circle cx="69.93" cy="143.91" r="1.7" fill="#000"/>
<circle cx="87.44" cy="143.91" r="1.7" fill="#000"/>
<circle cx="104.95" cy="143.91" r="1.7" fill="#000"/>
<circle cx="113.71" cy="143.91" r="1.7" fill="#000"/>
<circle cx="131.22" cy="143.91" r="1.7" fill="#000"/>
<circle cx="139.97" cy="143.91" r="1.7" fill="#000"/>
<circle cx="148.73" cy="143.91" r="1.7" fill="#000"/>
<circle cx="157.48" cy="143.91" r="1.7" fill="#000"/>
<circle cx="166.24" cy="143.91" r="1.7" fill="#000"/>
<circle cx="174.99" cy="143.91" r="1.7" fill="#000"/>
<circle cx="183.75" cy="143.91" r="1.7" fill="#000"/>
<circle cx="192.50" cy="143.91" r="1.7" fill="#000"/>
<circle cx="218.77" cy="143.91" r="1.7" fill="#000"/>
<circle cx="69.93" cy="153.09" r="1.7" fill="#000"/>
<circle cx="78.69" cy="153.09" r="1.7" fill="#000"/>
<circle cx="87.44" cy="153.09" r="1.7" fill="#000"/>
<circle cx="122.46" cy="153.09" r="1.7" fill="#000"/>
<circle cx="131.22" cy="153.09" r="1.7" fill="#000"/>
<circle cx="148.73" cy="153.09" r="1.7" fill="#000"/>
<circle cx="157.48" cy="153.09" r="1.7" fill="#000"/>
<circle cx="166.24" cy="153.09" r="1.7" fill="#000"/>
<circle cx="174.99" cy="153.09" r="1.7" fill="#000"/>
<circle cx="192.50" cy="153.09" r="1.7" fill="#000"/>
<circle cx="201.26" cy="153.09" r="1.7" fill="#000"/>
<circle cx="87.44" cy="162.28" r="1.7" fill="#000"/>
<circle cx="104.95" cy="162.28" r="1.7" fill="#000"/>
<circle cx="113.71" cy="162.28" r="1.7" fill="#000"/>
<circle cx="122.46" cy="162.28" r="1.7" fill="#000"/>
<circle cx="131.22" cy="162.28" r="1.7" fill="#000"/>
<circle cx="157.48" cy="162.28" r="1.7" fill="#000"/>
<circle cx="192.50" cy="162.28" r="1.7" fill="#000"/>
<circle cx="87.44" cy="171.46" r="1.7" fill="#000"/>
<circle cx="104.95" cy="171.46" r="1.7" fill="#000"/>
<circle cx="113.71" cy="171.46" r="1.7" fill="#000"/>
<circle cx="131.22" cy="171.46" r="1.7" fill="#000"/>
<circle cx="139.97" cy="171.46" r="1.7" fill="#000"/>
<circle cx="157.48" cy="171.46" r="1.7" fill="#000"/>
<circle cx="96.19" cy="180.65" r="1.7" fill="#000"/>
<circle cx="104.95" cy="180.65" r="1.7" fill="#000"/>
<circle cx="122.46" cy="180.65" r="1.7" fill="#000"/>
<circle cx="131.22" cy="180.65" r="1.7" fill="#000"/>
<circle cx="139.97" cy="180.65" r="1.7" fill="#000"/>
<circle cx="148.73" cy="180.65" r="1.7" fill="#000"/>
<circle cx="96.19" cy="189.83" r="1.7" fill="#000"/>
<circle cx="104.95" cy="189.83" r="1.7" fill="#000"/>
<circle cx="113.71" cy="189.83" r="1.7" fill="#000"/>
<circle cx="122.46" cy="189.83" r="1.7" fill="#000"/>
<circle cx="131.22" cy="189.83" r="1.7" fill="#000"/>
<circle cx="148.73" cy="189.83" r="1.7" fill="#000"/>
<circle cx="96.19" cy="199.02" r="1.7" fill="#000"/>
<circle cx="104.95" cy="199.02" r="1.7" fill="#000"/>
<circle cx="113.71" cy="199.02" r="1.7" fill="#000"/>
<circle cx="122.46" cy="199.02" r="1.7" fill="#000"/>
<circle cx="131.22" cy="199.02" r="1.7" fill="#000"/>
<circle cx="139.97" cy="199.02" r="1.7" fill="#000"/>
<circle cx="166.24" cy="199.02" r="1.7" fill="#000"/>
<rect x="11.4" y="24.5" width="230.6" height="180.1" fill="none" stroke="#404040" stroke-width="0.8"/>
<path d="M120,24.5v2.2M120,204.6v-2.2M11.4,89.3h2.2M242.0,89.3h-2.2" stroke="#404040" stroke-width="0.8"/>
</g>
<g transform="translate(337,0)">
<clipPath id="clipB"><polygon points="11.4,24.5 17.4,24.5 17.4,37.9 19.7,43.2 24.1,47.6 29.4,49.3 35.6,46.7 40.0,46.7 44.4,50.2 47.0,48.5 50.6,41.4 55.8,37.9 62.9,36.1 69.1,32.6 70.8,35.2 72.0,37.0 77.1,35.2 78.8,39.6 84.1,40.5 91.2,39.6 98.2,40.5 105.3,41.4 112.3,39.6 115.9,41.4 117.6,46.7 122.9,51.1 127.3,55.8 134.6,61.2 141.9,61.2 151.0,64.9 157.4,68.5 162.0,74.9 163.8,80.4 163.8,85.9 162.9,90.4 168.4,91.3 174.7,91.3 180.2,94.1 187.5,97.7 189.3,100.5 199.0,101.0 207.4,103.1 215.7,106.2 221.9,110.4 228.2,115.6 229.2,120.8 227.1,129.1 221.9,137.4 215.7,144.7 211.5,152.0 210.5,162.4 210.5,172.8 207.4,181.1 201.1,189.4 193.8,195.7 186.6,199.8 178.2,203.0 174.1,204.6 73.4,204.6 74.5,197.8 75.5,187.4 75.5,174.9 72.4,168.6 66.2,164.5 57.8,160.3 50.6,152.0 46.4,141.6 41.2,131.2 36.0,122.9 29.8,116.6 27.7,108.3 28.5,96.1 29.4,89.0 32.9,82.0 36.5,78.4 40.9,73.1 43.5,67.8 44.4,62.6 44.4,55.5 41.7,52.9 32.9,56.4 29.4,54.6 25.9,51.1 18.8,49.3 13.5,45.8 11.4,41.4"/></clipPath>
<g clip-path="url(#clipB)" shape-rendering="crispEdges">
<rect x="13.00" y="19.90" width="9.16" height="9.59" fill="#dcf0f7"/>
<rect x="13.00" y="29.09" width="9.16" height="9.59" fill="#bfe1ef"/>
<rect x="48.02" y="29.09" width="9.16" height="9.59" fill="#dcf0f7"/>
<rect x="56.78" y="29.09" width="9.16" height="9.59" fill="#dcf0f7"/>
<rect x="65.53" y="29.09" width="9.16" height="9.59" fill="#dcf0f7"/>
<rect x="74.28" y="29.09" width="9.16" height="9.59" fill="#dcf0f7"/>
<rect x="83.04" y="29.09" width="9.16" height="9.59" fill="#dcf0f7"/>
<rect x="91.80" y="29.09" width="9.16" height="9.59" fill="#dcf0f7"/>
<rect x="100.55" y="29.09" width="9.16" height="9.59" fill="#dcf0f7"/>
<rect x="109.31" y="29.09" width="9.16" height="9.59" fill="#dcf0f7"/>
<rect x="13.00" y="38.27" width="9.16" height="9.59" fill="#bfe1ef"/>
<rect x="21.76" y="38.27" width="9.16" height="9.59" fill="#dcf0f7"/>
<rect x="30.51" y="38.27" width="9.16" height="9.59" fill="#dcf0f7"/>
<rect x="39.27" y="38.27" width="9.16" height="9.59" fill="#dcf0f7"/>
<rect x="48.02" y="38.27" width="9.16" height="9.59" fill="#dcf0f7"/>
<rect x="56.78" y="38.27" width="9.16" height="9.59" fill="#dcf0f7"/>
<rect x="65.53" y="38.27" width="9.16" height="9.59" fill="#dcf0f7"/>
<rect x="74.28" y="38.27" width="9.16" height="9.59" fill="#fee29a"/>
<rect x="83.04" y="38.27" width="9.16" height="9.59" fill="#bfe1ef"/>
<rect x="91.80" y="38.27" width="9.16" height="9.59" fill="#dcf0f7"/>
<rect x="100.55" y="38.27" width="9.16" height="9.59" fill="#dcf0f7"/>
<rect x="109.31" y="38.27" width="9.16" height="9.59" fill="#dcf0f7"/>
<rect x="21.76" y="47.45" width="9.16" height="9.59" fill="#fee29a"/>
<rect x="30.51" y="47.45" width="9.16" height="9.59" fill="#dcf0f7"/>
<rect x="39.27" y="47.45" width="9.16" height="9.59" fill="#dcf0f7"/>
<rect x="48.02" y="47.45" width="9.16" height="9.59" fill="#bfe1ef"/>
<rect x="56.78" y="47.45" width="9.16" height="9.59" fill="#bfe1ef"/>
<rect x="65.53" y="47.45" width="9.16" height="9.59" fill="#dcf0f7"/>
<rect x="74.28" y="47.45" width="9.16" height="9.59" fill="#bfe1ef"/>
<rect x="83.04" y="47.45" width="9.16" height="9.59" fill="#bfe1ef"/>
<rect x="91.80" y="47.45" width="9.16" height="9.59" fill="#dcf0f7"/>
<rect x="100.55" y="47.45" width="9.16" height="9.59" fill="#bfe1ef"/>
<rect x="109.31" y="47.45" width="9.16" height="9.59" fill="#fee29a"/>
<rect x="118.06" y="47.45" width="9.16" height="9.59" fill="#dcf0f7"/>
<rect x="126.82" y="47.45" width="9.16" height="9.59" fill="#dcf0f7"/>
<rect x="39.27" y="56.64" width="9.16" height="9.59" fill="#dcf0f7"/>
<rect x="48.02" y="56.64" width="9.16" height="9.59" fill="#bfe1ef"/>
<rect x="56.78" y="56.64" width="9.16" height="9.59" fill="#bfe1ef"/>
<rect x="65.53" y="56.64" width="9.16" height="9.59" fill="#dcf0f7"/>
<rect x="74.28" y="56.64" width="9.16" height="9.59" fill="#bfe1ef"/>
<rect x="83.04" y="56.64" width="9.16" height="9.59" fill="#bfe1ef"/>
<rect x="91.80" y="56.64" width="9.16" height="9.59" fill="#bfe1ef"/>
<rect x="100.55" y="56.64" width="9.16" height="9.59" fill="#dcf0f7"/>
<rect x="109.31" y="56.64" width="9.16" height="9.59" fill="#fee29a"/>
<rect x="118.06" y="56.64" width="9.16" height="9.59" fill="#bfe1ef"/>
<rect x="126.82" y="56.64" width="9.16" height="9.59" fill="#bfe1ef"/>
<rect x="135.57" y="56.64" width="9.16" height="9.59" fill="#dcf0f7"/>
<rect x="144.33" y="56.64" width="9.16" height="9.59" fill="#dcf0f7"/>
<rect x="153.08" y="56.64" width="9.16" height="9.59" fill="#dcf0f7"/>
<rect x="39.27" y="65.83" width="9.16" height="9.59" fill="#fee29a"/>
<rect x="48.02" y="65.83" width="9.16" height="9.59" fill="#dcf0f7"/>
<rect x="56.78" y="65.83" width="9.16" height="9.59" fill="#dcf0f7"/>
<rect x="65.53" y="65.83" width="9.16" height="9.59" fill="#dcf0f7"/>
<rect x="74.28" y="65.83" width="9.16" height="9.59" fill="#dcf0f7"/>
<rect x="83.04" y="65.83" width="9.16" height="9.59" fill="#dcf0f7"/>
<rect x="91.80" y="65.83" width="9.16" height="9.59" fill="#dcf0f7"/>
<rect x="100.55" y="65.83" width="9.16" height="9.59" fill="#f88e55"/>
<rect x="109.31" y="65.83" width="9.16" height="9.59" fill="#f88e55"/>
<rect x="118.06" y="65.83" width="9.16" height="9.59" fill="#fdb56c"/>
<rect x="126.82" y="65.83" width="9.16" height="9.59" fill="#bfe1ef"/>
<rect x="135.57" y="65.83" width="9.16" height="9.59" fill="#bfe1ef"/>
<rect x="144.33" y="65.83" width="9.16" height="9.59" fill="#dcf0f7"/>
<rect x="153.08" y="65.83" width="9.16" height="9.59" fill="#dcf0f7"/>
<rect x="30.51" y="75.01" width="9.16" height="9.59" fill="#fee29a"/>
<rect x="39.27" y="75.01" width="9.16" height="9.59" fill="#fdb56c"/>
<rect x="48.02" y="75.01" width="9.16" height="9.59" fill="#f88e55"/>
<rect x="56.78" y="75.01" width="9.16" height="9.59" fill="#f88e55"/>
<rect x="65.53" y="75.01" width="9.16" height="9.59" fill="#f88e55"/>
<rect x="74.28" y="75.01" width="9.16" height="9.59" fill="#ef6a3f"/>
<rect x="83.04" y="75.01" width="9.16" height="9.59" fill="#f88e55"/>
<rect x="91.80" y="75.01" width="9.16" height="9.59" fill="#f88e55"/>
<rect x="100.55" y="75.01" width="9.16" height="9.59" fill="#f88e55"/>
<rect x="109.31" y="75.01" width="9.16" height="9.59" fill="#f88e55"/>
<rect x="118.06" y="75.01" width="9.16" height="9.59" fill="#f88e55"/>
<rect x="126.82" y="75.01" width="9.16" height="9.59" fill="#f88e55"/>
<rect x="135.57" y="75.01" width="9.16" height="9.59" fill="#fee29a"/>
<rect x="144.33" y="75.01" width="9.16" height="9.59" fill="#bfe1ef"/>
<rect x="153.08" y="75.01" width="9.16" height="9.59" fill="#fee29a"/>
<rect x="161.84" y="75.01" width="9.16" height="9.59" fill="#dcf0f7"/>
<rect x="30.51" y="84.19" width="9.16" height="9.59" fill="#fee29a"/>
<rect x="39.27" y="84.19" width="9.16" height="9.59" fill="#fdb56c"/>
<rect x="48.02" y="84.19" width="9.16" height="9.59" fill="#f88e55"/>
<rect x="56.78" y="84.19" width="9.16" height="9.59" fill="#f88e55"/>
<rect x="65.53" y="84.19" width="9.16" height="9.59" fill="#f88e55"/>
<rect x="74.28" y="84.19" width="9.16" height="9.59" fill="#ef6a3f"/>
<rect x="83.04" y="84.19" width="9.16" height="9.59" fill="#ef6a3f"/>
<rect x="91.80" y="84.19" width="9.16" height="9.59" fill="#f88e55"/>
<rect x="100.55" y="84.19" width="9.16" height="9.59" fill="#f88e55"/>
<rect x="109.31" y="84.19" width="9.16" height="9.59" fill="#f88e55"/>
<rect x="118.06" y="84.19" width="9.16" height="9.59" fill="#fdb56c"/>
<rect x="126.82" y="84.19" width="9.16" height="9.59" fill="#f88e55"/>
<rect x="135.57" y="84.19" width="9.16" height="9.59" fill="#dcf0f7"/>
<rect x="144.33" y="84.19" width="9.16" height="9.59" fill="#dcf0f7"/>
<rect x="153.08" y="84.19" width="9.16" height="9.59" fill="#dcf0f7"/>
<rect x="161.84" y="84.19" width="9.16" height="9.59" fill="#fee29a"/>
<rect x="170.59" y="84.19" width="9.16" height="9.59" fill="#dcf0f7"/>
<rect x="30.51" y="93.38" width="9.16" height="9.59" fill="#dcf0f7"/>
<rect x="39.27" y="93.38" width="9.16" height="9.59" fill="#fdb56c"/>
<rect x="48.02" y="93.38" width="9.16" height="9.59" fill="#f88e55"/>
<rect x="56.78" y="93.38" width="9.16" height="9.59" fill="#f88e55"/>
<rect x="65.53" y="93.38" width="9.16" height="9.59" fill="#f88e55"/>
<rect x="74.28" y="93.38" width="9.16" height="9.59" fill="#f88e55"/>
<rect x="83.04" y="93.38" width="9.16" height="9.59" fill="#f88e55"/>
<rect x="91.80" y="93.38" width="9.16" height="9.59" fill="#f88e55"/>
<rect x="100.55" y="93.38" width="9.16" height="9.59" fill="#ef6a3f"/>
<rect x="109.31" y="93.38" width="9.16" height="9.59" fill="#f88e55"/>
<rect x="118.06" y="93.38" width="9.16" height="9.59" fill="#f88e55"/>
<rect x="126.82" y="93.38" width="9.16" height="9.59" fill="#f88e55"/>
<rect x="135.57" y="93.38" width="9.16" height="9.59" fill="#fee29a"/>
<rect x="144.33" y="93.38" width="9.16" height="9.59" fill="#dcf0f7"/>
<rect x="153.08" y="93.38" width="9.16" height="9.59" fill="#dcf0f7"/>
<rect x="161.84" y="93.38" width="9.16" height="9.59" fill="#dcf0f7"/>
<rect x="170.59" y="93.38" width="9.16" height="9.59" fill="#fee29a"/>
<rect x="179.35" y="93.38" width="9.16" height="9.59" fill="#dcf0f7"/>
<rect x="30.51" y="102.56" width="9.16" height="9.59" fill="#dcf0f7"/>
<rect x="39.27" y="102.56" width="9.16" height="9.59" fill="#fdb56c"/>
<rect x="48.02" y="102.56" width="9.16" height="9.59" fill="#f88e55"/>
<rect x="56.78" y="102.56" width="9.16" height="9.59" fill="#f88e55"/>
<rect x="65.53" y="102.56" width="9.16" height="9.59" fill="#f88e55"/>
<rect x="74.28" y="102.56" width="9.16" height="9.59" fill="#f88e55"/>
<rect x="83.04" y="102.56" width="9.16" height="9.59" fill="#f88e55"/>
<rect x="91.80" y="102.56" width="9.16" height="9.59" fill="#f88e55"/>
<rect x="100.55" y="102.56" width="9.16" height="9.59" fill="#f88e55"/>
<rect x="109.31" y="102.56" width="9.16" height="9.59" fill="#fdb56c"/>
<rect x="118.06" y="102.56" width="9.16" height="9.59" fill="#fdb56c"/>
<rect x="126.82" y="102.56" width="9.16" height="9.59" fill="#fdb56c"/>
<rect x="135.57" y="102.56" width="9.16" height="9.59" fill="#dcf0f7"/>
<rect x="144.33" y="102.56" width="9.16" height="9.59" fill="#dcf0f7"/>
<rect x="153.08" y="102.56" width="9.16" height="9.59" fill="#dcf0f7"/>
<rect x="161.84" y="102.56" width="9.16" height="9.59" fill="#fee29a"/>
<rect x="170.59" y="102.56" width="9.16" height="9.59" fill="#fee29a"/>
<rect x="179.35" y="102.56" width="9.16" height="9.59" fill="#fee29a"/>
<rect x="188.10" y="102.56" width="9.16" height="9.59" fill="#dcf0f7"/>
<rect x="196.86" y="102.56" width="9.16" height="9.59" fill="#fee29a"/>
<rect x="205.61" y="102.56" width="9.16" height="9.59" fill="#fee29a"/>
<rect x="21.76" y="111.75" width="9.16" height="9.59" fill="#dcf0f7"/>
<rect x="30.51" y="111.75" width="9.16" height="9.59" fill="#dcf0f7"/>
<rect x="39.27" y="111.75" width="9.16" height="9.59" fill="#fdb56c"/>
<rect x="48.02" y="111.75" width="9.16" height="9.59" fill="#fdb56c"/>
<rect x="56.78" y="111.75" width="9.16" height="9.59" fill="#fdb56c"/>
<rect x="65.53" y="111.75" width="9.16" height="9.59" fill="#f88e55"/>
<rect x="74.28" y="111.75" width="9.16" height="9.59" fill="#fdb56c"/>
<rect x="83.04" y="111.75" width="9.16" height="9.59" fill="#fdb56c"/>
<rect x="91.80" y="111.75" width="9.16" height="9.59" fill="#fdb56c"/>
<rect x="100.55" y="111.75" width="9.16" height="9.59" fill="#fdb56c"/>
<rect x="109.31" y="111.75" width="9.16" height="9.59" fill="#f88e55"/>
<rect x="118.06" y="111.75" width="9.16" height="9.59" fill="#f88e55"/>
<rect x="126.82" y="111.75" width="9.16" height="9.59" fill="#fee29a"/>
<rect x="135.57" y="111.75" width="9.16" height="9.59" fill="#fee29a"/>
<rect x="144.33" y="111.75" width="9.16" height="9.59" fill="#fee29a"/>
<rect x="153.08" y="111.75" width="9.16" height="9.59" fill="#fdb56c"/>
<rect x="161.84" y="111.75" width="9.16" height="9.59" fill="#fdb56c"/>
<rect x="170.59" y="111.75" width="9.16" height="9.59" fill="#dcf0f7"/>
<rect x="179.35" y="111.75" width="9.16" height="9.59" fill="#fee29a"/>
<rect x="188.10" y="111.75" width="9.16" height="9.59" fill="#fdb56c"/>
<rect x="196.86" y="111.75" width="9.16" height="9.59" fill="#f88e55"/>
<rect x="205.61" y="111.75" width="9.16" height="9.59" fill="#f88e55"/>
<rect x="214.37" y="111.75" width="9.16" height="9.59" fill="#dcf0f7"/>
<rect x="223.12" y="111.75" width="9.16" height="9.59" fill="#dcf0f7"/>
<rect x="30.51" y="120.94" width="9.16" height="9.59" fill="#dcf0f7"/>
<rect x="39.27" y="120.94" width="9.16" height="9.59" fill="#fee29a"/>
<rect x="48.02" y="120.94" width="9.16" height="9.59" fill="#fdb56c"/>
<rect x="56.78" y="120.94" width="9.16" height="9.59" fill="#fdb56c"/>
<rect x="65.53" y="120.94" width="9.16" height="9.59" fill="#fdb56c"/>
<rect x="74.28" y="120.94" width="9.16" height="9.59" fill="#dcf0f7"/>
<rect x="83.04" y="120.94" width="9.16" height="9.59" fill="#dcf0f7"/>
<rect x="91.80" y="120.94" width="9.16" height="9.59" fill="#fee29a"/>
<rect x="100.55" y="120.94" width="9.16" height="9.59" fill="#fdb56c"/>
<rect x="109.31" y="120.94" width="9.16" height="9.59" fill="#f88e55"/>
<rect x="118.06" y="120.94" width="9.16" height="9.59" fill="#f88e55"/>
<rect x="126.82" y="120.94" width="9.16" height="9.59" fill="#fdb56c"/>
<rect x="135.57" y="120.94" width="9.16" height="9.59" fill="#fdb56c"/>
<rect x="144.33" y="120.94" width="9.16" height="9.59" fill="#fee29a"/>
<rect x="153.08" y="120.94" width="9.16" height="9.59" fill="#fee29a"/>
<rect x="161.84" y="120.94" width="9.16" height="9.59" fill="#dcf0f7"/>
<rect x="170.59" y="120.94" width="9.16" height="9.59" fill="#dcf0f7"/>
<rect x="179.35" y="120.94" width="9.16" height="9.59" fill="#fee29a"/>
<rect x="188.10" y="120.94" width="9.16" height="9.59" fill="#f88e55"/>
<rect x="196.86" y="120.94" width="9.16" height="9.59" fill="#f88e55"/>
<rect x="205.61" y="120.94" width="9.16" height="9.59" fill="#f88e55"/>
<rect x="214.37" y="120.94" width="9.16" height="9.59" fill="#fee29a"/>
<rect x="223.12" y="120.94" width="9.16" height="9.59" fill="#dcf0f7"/>
<rect x="30.51" y="130.12" width="9.16" height="9.59" fill="#dcf0f7"/>
<rect x="39.27" y="130.12" width="9.16" height="9.59" fill="#dcf0f7"/>
<rect x="48.02" y="130.12" width="9.16" height="9.59" fill="#fdb56c"/>
<rect x="56.78" y="130.12" width="9.16" height="9.59" fill="#fee29a"/>
<rect x="65.53" y="130.12" width="9.16" height="9.59" fill="#dcf0f7"/>
<rect x="74.28" y="130.12" width="9.16" height="9.59" fill="#dcf0f7"/>
<rect x="83.04" y="130.12" width="9.16" height="9.59" fill="#fdb56c"/>
<rect x="91.80" y="130.12" width="9.16" height="9.59" fill="#fdb56c"/>
<rect x="100.55" y="130.12" width="9.16" height="9.59" fill="#f88e55"/>
<rect x="109.31" y="130.12" width="9.16" height="9.59" fill="#f88e55"/>
<rect x="118.06" y="130.12" width="9.16" height="9.59" fill="#f88e55"/>
<rect x="126.82" y="130.12" width="9.16" height="9.59" fill="#f88e55"/>
<rect x="135.57" y="130.12" width="9.16" height="9.59" fill="#ef6a3f"/>
<rect x="144.33" y="130.12" width="9.16" height="9.59" fill="#f88e55"/>
<rect x="153.08" y="130.12" width="9.16" height="9.59" fill="#f88e55"/>
<rect x="161.84" y="130.12" width="9.16" height="9.59" fill="#dcf0f7"/>
<rect x="170.59" y="130.12" width="9.16" height="9.59" fill="#bfe1ef"/>
<rect x="179.35" y="130.12" width="9.16" height="9.59" fill="#fee29a"/>
<rect x="188.10" y="130.12" width="9.16" height="9.59" fill="#ef6a3f"/>
<rect x="196.86" y="130.12" width="9.16" height="9.59" fill="#f88e55"/>
<rect x="205.61" y="130.12" width="9.16" height="9.59" fill="#f88e55"/>
<rect x="214.37" y="130.12" width="9.16" height="9.59" fill="#fee29a"/>
<rect x="39.27" y="139.31" width="9.16" height="9.59" fill="#dcf0f7"/>
<rect x="48.02" y="139.31" width="9.16" height="9.59" fill="#fee29a"/>
<rect x="56.78" y="139.31" width="9.16" height="9.59" fill="#fee29a"/>
<rect x="65.53" y="139.31" width="9.16" height="9.59" fill="#fee29a"/>
<rect x="74.28" y="139.31" width="9.16" height="9.59" fill="#dcf0f7"/>
<rect x="83.04" y="139.31" width="9.16" height="9.59" fill="#fdb56c"/>
<rect x="91.80" y="139.31" width="9.16" height="9.59" fill="#fdb56c"/>
<rect x="100.55" y="139.31" width="9.16" height="9.59" fill="#ef6a3f"/>
<rect x="109.31" y="139.31" width="9.16" height="9.59" fill="#ef6a3f"/>
<rect x="118.06" y="139.31" width="9.16" height="9.59" fill="#f88e55"/>
<rect x="126.82" y="139.31" width="9.16" height="9.59" fill="#f88e55"/>
<rect x="135.57" y="139.31" width="9.16" height="9.59" fill="#f88e55"/>
<rect x="144.33" y="139.31" width="9.16" height="9.59" fill="#f88e55"/>
<rect x="153.08" y="139.31" width="9.16" height="9.59" fill="#f88e55"/>
<rect x="161.84" y="139.31" width="9.16" height="9.59" fill="#dcf0f7"/>
<rect x="170.59" y="139.31" width="9.16" height="9.59" fill="#dcf0f7"/>
<rect x="179.35" y="139.31" width="9.16" height="9.59" fill="#fee29a"/>
<rect x="188.10" y="139.31" width="9.16" height="9.59" fill="#fdb56c"/>
<rect x="196.86" y="139.31" width="9.16" height="9.59" fill="#f88e55"/>
<rect x="205.61" y="139.31" width="9.16" height="9.59" fill="#fdb56c"/>
<rect x="214.37" y="139.31" width="9.16" height="9.59" fill="#dcf0f7"/>
<rect x="48.02" y="148.49" width="9.16" height="9.59" fill="#dcf0f7"/>
<rect x="56.78" y="148.49" width="9.16" height="9.59" fill="#dcf0f7"/>
<rect x="65.53" y="148.49" width="9.16" height="9.59" fill="#fee29a"/>
<rect x="74.28" y="148.49" width="9.16" height="9.59" fill="#dcf0f7"/>
<rect x="83.04" y="148.49" width="9.16" height="9.59" fill="#fdb56c"/>
<rect x="91.80" y="148.49" width="9.16" height="9.59" fill="#fdb56c"/>
<rect x="100.55" y="148.49" width="9.16" height="9.59" fill="#f88e55"/>
<rect x="109.31" y="148.49" width="9.16" height="9.59" fill="#f88e55"/>
<rect x="118.06" y="148.49" width="9.16" height="9.59" fill="#f88e55"/>
<rect x="126.82" y="148.49" width="9.16" height="9.59" fill="#fdb56c"/>
<rect x="135.57" y="148.49" width="9.16" height="9.59" fill="#fee29a"/>
<rect x="144.33" y="148.49" width="9.16" height="9.59" fill="#fdb56c"/>
<rect x="153.08" y="148.49" width="9.16" height="9.59" fill="#fee29a"/>
<rect x="161.84" y="148.49" width="9.16" height="9.59" fill="#dcf0f7"/>
<rect x="170.59" y="148.49" width="9.16" height="9.59" fill="#fee29a"/>
<rect x="179.35" y="148.49" width="9.16" height="9.59" fill="#fee29a"/>
<rect x="188.10" y="148.49" width="9.16" height="9.59" fill="#fdb56c"/>
<rect x="196.86" y="148.49" width="9.16" height="9.59" fill="#fdb56c"/>
<rect x="205.61" y="148.49" width="9.16" height="9.59" fill="#fee29a"/>
<rect x="56.78" y="157.68" width="9.16" height="9.59" fill="#bfe1ef"/>
<rect x="65.53" y="157.68" width="9.16" height="9.59" fill="#bfe1ef"/>
<rect x="74.28" y="157.68" width="9.16" height="9.59" fill="#bfe1ef"/>
<rect x="83.04" y="157.68" width="9.16" height="9.59" fill="#fee29a"/>
<rect x="91.80" y="157.68" width="9.16" height="9.59" fill="#fee29a"/>
<rect x="100.55" y="157.68" width="9.16" height="9.59" fill="#f88e55"/>
<rect x="109.31" y="157.68" width="9.16" height="9.59" fill="#ef6a3f"/>
<rect x="118.06" y="157.68" width="9.16" height="9.59" fill="#f88e55"/>
<rect x="126.82" y="157.68" width="9.16" height="9.59" fill="#f88e55"/>
<rect x="135.57" y="157.68" width="9.16" height="9.59" fill="#dcf0f7"/>
<rect x="144.33" y="157.68" width="9.16" height="9.59" fill="#dcf0f7"/>
<rect x="153.08" y="157.68" width="9.16" height="9.59" fill="#dcf0f7"/>
<rect x="161.84" y="157.68" width="9.16" height="9.59" fill="#dcf0f7"/>
<rect x="170.59" y="157.68" width="9.16" height="9.59" fill="#fee29a"/>
<rect x="179.35" y="157.68" width="9.16" height="9.59" fill="#fee29a"/>
<rect x="188.10" y="157.68" width="9.16" height="9.59" fill="#fdb56c"/>
<rect x="196.86" y="157.68" width="9.16" height="9.59" fill="#fdb56c"/>
<rect x="205.61" y="157.68" width="9.16" height="9.59" fill="#fee29a"/>
<rect x="65.53" y="166.86" width="9.16" height="9.59" fill="#dcf0f7"/>
<rect x="74.28" y="166.86" width="9.16" height="9.59" fill="#dcf0f7"/>
<rect x="83.04" y="166.86" width="9.16" height="9.59" fill="#fee29a"/>
<rect x="91.80" y="166.86" width="9.16" height="9.59" fill="#fdb56c"/>
<rect x="100.55" y="166.86" width="9.16" height="9.59" fill="#ef6a3f"/>
<rect x="109.31" y="166.86" width="9.16" height="9.59" fill="#d93a2b"/>
<rect x="118.06" y="166.86" width="9.16" height="9.59" fill="#f88e55"/>
<rect x="126.82" y="166.86" width="9.16" height="9.59" fill="#f88e55"/>
<rect x="135.57" y="166.86" width="9.16" height="9.59" fill="#dcf0f7"/>
<rect x="144.33" y="166.86" width="9.16" height="9.59" fill="#dcf0f7"/>
<rect x="153.08" y="166.86" width="9.16" height="9.59" fill="#fee29a"/>
<rect x="161.84" y="166.86" width="9.16" height="9.59" fill="#fee29a"/>
<rect x="170.59" y="166.86" width="9.16" height="9.59" fill="#fee29a"/>
<rect x="179.35" y="166.86" width="9.16" height="9.59" fill="#fee29a"/>
<rect x="188.10" y="166.86" width="9.16" height="9.59" fill="#fdb56c"/>
<rect x="196.86" y="166.86" width="9.16" height="9.59" fill="#fdb56c"/>
<rect x="74.28" y="176.05" width="9.16" height="9.59" fill="#dcf0f7"/>
<rect x="83.04" y="176.05" width="9.16" height="9.59" fill="#dcf0f7"/>
<rect x="91.80" y="176.05" width="9.16" height="9.59" fill="#fee29a"/>
<rect x="100.55" y="176.05" width="9.16" height="9.59" fill="#dcf0f7"/>
<rect x="109.31" y="176.05" width="9.16" height="9.59" fill="#f88e55"/>
<rect x="118.06" y="176.05" width="9.16" height="9.59" fill="#f88e55"/>
<rect x="126.82" y="176.05" width="9.16" height="9.59" fill="#ef6a3f"/>
<rect x="135.57" y="176.05" width="9.16" height="9.59" fill="#dcf0f7"/>
<rect x="144.33" y="176.05" width="9.16" height="9.59" fill="#fee29a"/>
<rect x="153.08" y="176.05" width="9.16" height="9.59" fill="#dcf0f7"/>
<rect x="161.84" y="176.05" width="9.16" height="9.59" fill="#fee29a"/>
<rect x="170.59" y="176.05" width="9.16" height="9.59" fill="#fee29a"/>
<rect x="179.35" y="176.05" width="9.16" height="9.59" fill="#dcf0f7"/>
<rect x="188.10" y="176.05" width="9.16" height="9.59" fill="#fee29a"/>
<rect x="196.86" y="176.05" width="9.16" height="9.59" fill="#fee29a"/>
<rect x="74.28" y="185.23" width="9.16" height="9.59" fill="#dcf0f7"/>
<rect x="83.04" y="185.23" width="9.16" height="9.59" fill="#fee29a"/>
<rect x="91.80" y="185.23" width="9.16" height="9.59" fill="#fee29a"/>
<rect x="100.55" y="185.23" width="9.16" height="9.59" fill="#fdb56c"/>
<rect x="109.31" y="185.23" width="9.16" height="9.59" fill="#f88e55"/>
<rect x="118.06" y="185.23" width="9.16" height="9.59" fill="#f88e55"/>
<rect x="126.82" y="185.23" width="9.16" height="9.59" fill="#f88e55"/>
<rect x="135.57" y="185.23" width="9.16" height="9.59" fill="#dcf0f7"/>
<rect x="144.33" y="185.23" width="9.16" height="9.59" fill="#fee29a"/>
<rect x="153.08" y="185.23" width="9.16" height="9.59" fill="#dcf0f7"/>
<rect x="161.84" y="185.23" width="9.16" height="9.59" fill="#fee29a"/>
<rect x="170.59" y="185.23" width="9.16" height="9.59" fill="#fee29a"/>
<rect x="179.35" y="185.23" width="9.16" height="9.59" fill="#dcf0f7"/>
<rect x="188.10" y="185.23" width="9.16" height="9.59" fill="#dcf0f7"/>
<rect x="196.86" y="185.23" width="9.16" height="9.59" fill="#dcf0f7"/>
<rect x="74.28" y="194.42" width="9.16" height="11.59" fill="#dcf0f7"/>
<rect x="83.04" y="194.42" width="9.16" height="11.59" fill="#fee29a"/>
<rect x="91.80" y="194.42" width="9.16" height="11.59" fill="#fdb56c"/>
<rect x="100.55" y="194.42" width="9.16" height="11.59" fill="#fdb56c"/>
<rect x="109.31" y="194.42" width="9.16" height="11.59" fill="#f88e55"/>
<rect x="118.06" y="194.42" width="9.16" height="11.59" fill="#f88e55"/>
<rect x="126.82" y="194.42" width="9.16" height="11.59" fill="#f88e55"/>
<rect x="135.57" y="194.42" width="9.16" height="11.59" fill="#fdb56c"/>
<rect x="144.33" y="194.42" width="9.16" height="11.59" fill="#fee29a"/>
<rect x="153.08" y="194.42" width="9.16" height="11.59" fill="#dcf0f7"/>
<rect x="161.84" y="194.42" width="9.16" height="11.59" fill="#dcf0f7"/>
<rect x="170.59" y="194.42" width="9.16" height="11.59" fill="#fee29a"/>
<rect x="179.35" y="194.42" width="9.16" height="11.59" fill="#dcf0f7"/>
</g>
<polygon points="11.4,24.5 17.4,24.5 17.4,37.9 19.7,43.2 24.1,47.6 29.4,49.3 35.6,46.7 40.0,46.7 44.4,50.2 47.0,48.5 50.6,41.4 55.8,37.9 62.9,36.1 69.1,32.6 70.8,35.2 72.0,37.0 77.1,35.2 78.8,39.6 84.1,40.5 91.2,39.6 98.2,40.5 105.3,41.4 112.3,39.6 115.9,41.4 117.6,46.7 122.9,51.1 127.3,55.8 134.6,61.2 141.9,61.2 151.0,64.9 157.4,68.5 162.0,74.9 163.8,80.4 163.8,85.9 162.9,90.4 168.4,91.3 174.7,91.3 180.2,94.1 187.5,97.7 189.3,100.5 199.0,101.0 207.4,103.1 215.7,106.2 221.9,110.4 228.2,115.6 229.2,120.8 227.1,129.1 221.9,137.4 215.7,144.7 211.5,152.0 210.5,162.4 210.5,172.8 207.4,181.1 201.1,189.4 193.8,195.7 186.6,199.8 178.2,203.0 174.1,204.6 73.4,204.6 74.5,197.8 75.5,187.4 75.5,174.9 72.4,168.6 66.2,164.5 57.8,160.3 50.6,152.0 46.4,141.6 41.2,131.2 36.0,122.9 29.8,116.6 27.7,108.3 28.5,96.1 29.4,89.0 32.9,82.0 36.5,78.4 40.9,73.1 43.5,67.8 44.4,62.6 44.4,55.5 41.7,52.9 32.9,56.4 29.4,54.6 25.9,51.1 18.8,49.3 13.5,45.8 11.4,41.4" fill="none" stroke="#8c8c8c" stroke-width="0.7"/>
<polygon points="34.7,106.7 36.5,97.9 39.1,92.6 42.6,85.5 47.1,80.2 52.4,76.7 55.0,74.1 56.8,78.5 61.2,80.2 68.2,78.5 77.1,78.5 84.1,77.6 91.2,78.5 94.7,80.2 98.2,82.0 101.8,80.2 101.8,71.4 105.3,69.6 108.8,69.6 112.3,68.8 115.9,67.0 119.4,66.1 121.8,68.8 121.8,71.3 121.8,78.6 123.6,82.2 128.2,80.4 129.1,76.7 130.9,80.4 138.2,78.6 147.4,78.6 151.9,82.2 153.8,87.7 155.6,92.3 152.8,95.9 157.4,96.8 159.2,99.6 163.8,98.6 166.5,100.5 166.8,108.3 171.0,112.5 176.2,112.5 179.3,116.6 180.3,125.0 178.2,131.2 180.3,137.4 182.4,143.7 181.4,152.0 181.4,158.2 176.2,159.3 172.0,161.4 167.8,163.4 161.6,164.5 155.4,167.6 150.2,171.8 148.1,168.6 145.0,164.5 140.8,162.4 138.7,158.2 136.6,154.1 132.5,153.0 129.4,154.1 126.2,156.2 124.2,160.3 123.1,166.6 122.1,171.8 118.2,172.8 111.9,179.0 107.8,184.2 101.5,183.2 96.3,179.0 91.1,174.9 87.0,166.6 82.8,160.3 79.7,156.2 76.6,153.0 72.4,156.2 69.3,160.3 64.1,158.2 59.9,156.2 55.8,152.0 51.6,145.8 48.5,139.5 45.4,133.3 42.2,127.0 39.1,120.8 36.0,116.6 35.0,108.3" fill="none" stroke="#000" stroke-width="1.7" stroke-linejoin="round"/>
<line x1="40.5" y1="124.3" x2="180.0" y2="124.3" stroke="#000" stroke-width="1.5"/>
<circle cx="17.40" cy="42.87" r="1.7" fill="#000"/>
<circle cx="52.42" cy="42.87" r="1.7" fill="#000"/>
<circle cx="87.44" cy="42.87" r="1.7" fill="#000"/>
<circle cx="43.66" cy="52.05" r="1.7" fill="#000"/>
<circle cx="52.42" cy="52.05" r="1.7" fill="#000"/>
<circle cx="61.18" cy="52.05" r="1.7" fill="#000"/>
<circle cx="69.93" cy="52.05" r="1.7" fill="#000"/>
<circle cx="78.69" cy="52.05" r="1.7" fill="#000"/>
<circle cx="87.44" cy="52.05" r="1.7" fill="#000"/>
<circle cx="96.19" cy="52.05" r="1.7" fill="#000"/>
<circle cx="122.46" cy="52.05" r="1.7" fill="#000"/>
<circle cx="52.42" cy="61.24" r="1.7" fill="#000"/>
<circle cx="61.18" cy="61.24" r="1.7" fill="#000"/>
<circle cx="69.93" cy="61.24" r="1.7" fill="#000"/>
<circle cx="78.69" cy="61.24" r="1.7" fill="#000"/>
<circle cx="87.44" cy="61.24" r="1.7" fill="#000"/>
<circle cx="96.19" cy="61.24" r="1.7" fill="#000"/>
<circle cx="131.22" cy="61.24" r="1.7" fill="#000"/>
<circle cx="52.42" cy="70.43" r="1.7" fill="#000"/>
<circle cx="61.18" cy="70.43" r="1.7" fill="#000"/>
<circle cx="69.93" cy="70.43" r="1.7" fill="#000"/>
<circle cx="78.69" cy="70.43" r="1.7" fill="#000"/>
<circle cx="87.44" cy="70.43" r="1.7" fill="#000"/>
<circle cx="96.19" cy="70.43" r="1.7" fill="#000"/>
<circle cx="104.95" cy="70.43" r="1.7" fill="#000"/>
<circle cx="113.71" cy="70.43" r="1.7" fill="#000"/>
<circle cx="131.22" cy="70.43" r="1.7" fill="#000"/>
<circle cx="157.48" cy="70.43" r="1.7" fill="#000"/>
<circle cx="69.93" cy="79.61" r="1.7" fill="#000"/>
<circle cx="78.69" cy="79.61" r="1.7" fill="#000"/>
<circle cx="87.44" cy="79.61" r="1.7" fill="#000"/>
<circle cx="104.95" cy="79.61" r="1.7" fill="#000"/>
<circle cx="113.71" cy="79.61" r="1.7" fill="#000"/>
<circle cx="52.42" cy="88.80" r="1.7" fill="#000"/>
<circle cx="78.69" cy="88.80" r="1.7" fill="#000"/>
<circle cx="87.44" cy="88.80" r="1.7" fill="#000"/>
<circle cx="104.95" cy="88.80" r="1.7" fill="#000"/>
<circle cx="52.42" cy="97.98" r="1.7" fill="#000"/>
<circle cx="61.18" cy="97.98" r="1.7" fill="#000"/>
<circle cx="69.93" cy="97.98" r="1.7" fill="#000"/>
<circle cx="78.69" cy="97.98" r="1.7" fill="#000"/>
<circle cx="87.44" cy="97.98" r="1.7" fill="#000"/>
<circle cx="96.19" cy="97.98" r="1.7" fill="#000"/>
<circle cx="104.95" cy="97.98" r="1.7" fill="#000"/>
<circle cx="113.71" cy="97.98" r="1.7" fill="#000"/>
<circle cx="43.66" cy="107.17" r="1.7" fill="#000"/>
<circle cx="52.42" cy="107.17" r="1.7" fill="#000"/>
<circle cx="61.18" cy="107.17" r="1.7" fill="#000"/>
<circle cx="69.93" cy="107.17" r="1.7" fill="#000"/>
<circle cx="78.69" cy="107.17" r="1.7" fill="#000"/>
<circle cx="87.44" cy="107.17" r="1.7" fill="#000"/>
<circle cx="96.19" cy="107.17" r="1.7" fill="#000"/>
<circle cx="157.48" cy="107.17" r="1.7" fill="#000"/>
<circle cx="52.42" cy="116.35" r="1.7" fill="#000"/>
<circle cx="61.18" cy="116.35" r="1.7" fill="#000"/>
<circle cx="69.93" cy="116.35" r="1.7" fill="#000"/>
<circle cx="78.69" cy="116.35" r="1.7" fill="#000"/>
<circle cx="87.44" cy="116.35" r="1.7" fill="#000"/>
<circle cx="96.19" cy="116.35" r="1.7" fill="#000"/>
<circle cx="113.71" cy="116.35" r="1.7" fill="#000"/>
<circle cx="157.48" cy="116.35" r="1.7" fill="#000"/>
<circle cx="104.95" cy="125.54" r="1.7" fill="#000"/>
<circle cx="174.99" cy="125.54" r="1.7" fill="#000"/>
<circle cx="201.26" cy="125.54" r="1.7" fill="#000"/>
<circle cx="43.66" cy="134.72" r="1.7" fill="#000"/>
<circle cx="87.44" cy="134.72" r="1.7" fill="#000"/>
<circle cx="104.95" cy="134.72" r="1.7" fill="#000"/>
<circle cx="113.71" cy="134.72" r="1.7" fill="#000"/>
<circle cx="131.22" cy="134.72" r="1.7" fill="#000"/>
<circle cx="139.97" cy="134.72" r="1.7" fill="#000"/>
<circle cx="148.73" cy="134.72" r="1.7" fill="#000"/>
<circle cx="192.50" cy="134.72" r="1.7" fill="#000"/>
<circle cx="201.26" cy="134.72" r="1.7" fill="#000"/>
<circle cx="210.01" cy="134.72" r="1.7" fill="#000"/>
<circle cx="104.95" cy="143.91" r="1.7" fill="#000"/>
<circle cx="113.71" cy="143.91" r="1.7" fill="#000"/>
<circle cx="122.46" cy="143.91" r="1.7" fill="#000"/>
<circle cx="131.22" cy="143.91" r="1.7" fill="#000"/>
<circle cx="139.97" cy="143.91" r="1.7" fill="#000"/>
<circle cx="148.73" cy="143.91" r="1.7" fill="#000"/>
<circle cx="157.48" cy="143.91" r="1.7" fill="#000"/>
<circle cx="192.50" cy="143.91" r="1.7" fill="#000"/>
<circle cx="201.26" cy="143.91" r="1.7" fill="#000"/>
<circle cx="210.01" cy="143.91" r="1.7" fill="#000"/>
<circle cx="52.42" cy="153.09" r="1.7" fill="#000"/>
<circle cx="104.95" cy="153.09" r="1.7" fill="#000"/>
<circle cx="122.46" cy="153.09" r="1.7" fill="#000"/>
<circle cx="148.73" cy="153.09" r="1.7" fill="#000"/>
<circle cx="61.18" cy="162.28" r="1.7" fill="#000"/>
<circle cx="69.93" cy="162.28" r="1.7" fill="#000"/>
<circle cx="104.95" cy="162.28" r="1.7" fill="#000"/>
<circle cx="113.71" cy="162.28" r="1.7" fill="#000"/>
<circle cx="131.22" cy="162.28" r="1.7" fill="#000"/>
<circle cx="166.24" cy="162.28" r="1.7" fill="#000"/>
<circle cx="192.50" cy="162.28" r="1.7" fill="#000"/>
<circle cx="104.95" cy="171.46" r="1.7" fill="#000"/>
<circle cx="113.71" cy="171.46" r="1.7" fill="#000"/>
<circle cx="131.22" cy="171.46" r="1.7" fill="#000"/>
<circle cx="174.99" cy="171.46" r="1.7" fill="#000"/>
<circle cx="201.26" cy="171.46" r="1.7" fill="#000"/>
<circle cx="122.46" cy="180.65" r="1.7" fill="#000"/>
<circle cx="131.22" cy="180.65" r="1.7" fill="#000"/>
<circle cx="183.75" cy="180.65" r="1.7" fill="#000"/>
<circle cx="78.69" cy="189.83" r="1.7" fill="#000"/>
<circle cx="104.95" cy="189.83" r="1.7" fill="#000"/>
<circle cx="113.71" cy="189.83" r="1.7" fill="#000"/>
<circle cx="122.46" cy="189.83" r="1.7" fill="#000"/>
<circle cx="131.22" cy="189.83" r="1.7" fill="#000"/>
<circle cx="139.97" cy="189.83" r="1.7" fill="#000"/>
<circle cx="192.50" cy="189.83" r="1.7" fill="#000"/>
<circle cx="201.26" cy="189.83" r="1.7" fill="#000"/>
<circle cx="96.19" cy="199.02" r="1.7" fill="#000"/>
<circle cx="104.95" cy="199.02" r="1.7" fill="#000"/>
<circle cx="113.71" cy="199.02" r="1.7" fill="#000"/>
<circle cx="122.46" cy="199.02" r="1.7" fill="#000"/>
<circle cx="131.22" cy="199.02" r="1.7" fill="#000"/>
<circle cx="139.97" cy="199.02" r="1.7" fill="#000"/>
<circle cx="157.48" cy="199.02" r="1.7" fill="#000"/>
<circle cx="166.24" cy="199.02" r="1.7" fill="#000"/>
<circle cx="174.99" cy="199.02" r="1.7" fill="#000"/>
<circle cx="183.75" cy="199.02" r="1.7" fill="#000"/>
<rect x="11.4" y="24.5" width="231.5" height="180.1" fill="none" stroke="#404040" stroke-width="0.8"/>
<path d="M120,24.5v2.2M120,204.6v-2.2M11.4,89.3h2.2M242.9,89.3h-2.2" stroke="#404040" stroke-width="0.8"/>
</g>
<g transform="translate(0,239.9)">
<clipPath id="clipC"><polygon points="11.4,24.5 17.4,24.5 17.4,37.9 19.7,43.2 24.1,47.6 29.4,49.3 35.6,46.7 40.0,46.7 44.4,50.2 47.0,48.5 50.6,41.4 55.8,37.9 62.9,36.1 69.1,32.6 70.8,35.2 72.0,37.0 77.1,35.2 78.8,39.6 84.1,40.5 91.2,39.6 98.2,40.5 105.3,41.4 112.3,39.6 115.9,41.4 117.6,46.7 122.9,51.1 127.3,55.8 134.6,61.2 141.9,61.2 151.0,64.9 157.4,68.5 162.0,74.9 163.8,80.4 163.8,85.9 162.9,90.4 168.4,91.3 174.7,91.3 180.2,94.1 187.5,97.7 189.3,100.5 199.0,101.0 207.4,103.1 215.7,106.2 221.9,110.4 228.2,115.6 229.2,120.8 227.1,129.1 221.9,137.4 215.7,144.7 211.5,152.0 210.5,162.4 210.5,172.8 207.4,181.1 201.1,189.4 193.8,195.7 186.6,199.8 178.2,203.0 174.1,204.6 73.4,204.6 74.5,197.8 75.5,187.4 75.5,174.9 72.4,168.6 66.2,164.5 57.8,160.3 50.6,152.0 46.4,141.6 41.2,131.2 36.0,122.9 29.8,116.6 27.7,108.3 28.5,96.1 29.4,89.0 32.9,82.0 36.5,78.4 40.9,73.1 43.5,67.8 44.4,62.6 44.4,55.5 41.7,52.9 32.9,56.4 29.4,54.6 25.9,51.1 18.8,49.3 13.5,45.8 11.4,41.4"/></clipPath>
<g clip-path="url(#clipC)" shape-rendering="crispEdges">
<rect x="13.00" y="19.90" width="9.16" height="9.59" fill="#7a62ab"/>
<rect x="13.00" y="29.09" width="9.16" height="9.59" fill="#5b2a93"/>
<rect x="48.02" y="29.09" width="9.16" height="9.59" fill="#aaa2cf"/>
<rect x="56.78" y="29.09" width="9.16" height="9.59" fill="#7a62ab"/>
<rect x="65.53" y="29.09" width="9.16" height="9.59" fill="#d8d8ec"/>
<rect x="74.28" y="29.09" width="9.16" height="9.59" fill="#d8d8ec"/>
<rect x="83.04" y="29.09" width="9.16" height="9.59" fill="#aaa2cf"/>
<rect x="91.80" y="29.09" width="9.16" height="9.59" fill="#d8d8ec"/>
<rect x="100.55" y="29.09" width="9.16" height="9.59" fill="#aaa2cf"/>
<rect x="109.31" y="29.09" width="9.16" height="9.59" fill="#d8d8ec"/>
<rect x="13.00" y="38.27" width="9.16" height="9.59" fill="#45127a"/>
<rect x="21.76" y="38.27" width="9.16" height="9.59" fill="#aaa2cf"/>
<rect x="30.51" y="38.27" width="9.16" height="9.59" fill="#d8d8ec"/>
<rect x="39.27" y="38.27" width="9.16" height="9.59" fill="#d8d8ec"/>
<rect x="48.02" y="38.27" width="9.16" height="9.59" fill="#fde0bc"/>
<rect x="56.78" y="38.27" width="9.16" height="9.59" fill="#aaa2cf"/>
<rect x="65.53" y="38.27" width="9.16" height="9.59" fill="#aaa2cf"/>
<rect x="74.28" y="38.27" width="9.16" height="9.59" fill="#5b2a93"/>
<rect x="83.04" y="38.27" width="9.16" height="9.59" fill="#aaa2cf"/>
<rect x="91.80" y="38.27" width="9.16" height="9.59" fill="#fde0bc"/>
<rect x="100.55" y="38.27" width="9.16" height="9.59" fill="#d8d8ec"/>
<rect x="109.31" y="38.27" width="9.16" height="9.59" fill="#aaa2cf"/>
<rect x="118.06" y="38.27" width="9.16" height="9.59" fill="#aaa2cf"/>
<rect x="21.76" y="47.45" width="9.16" height="9.59" fill="#fde0bc"/>
<rect x="30.51" y="47.45" width="9.16" height="9.59" fill="#d8d8ec"/>
<rect x="39.27" y="47.45" width="9.16" height="9.59" fill="#5b2a93"/>
<rect x="48.02" y="47.45" width="9.16" height="9.59" fill="#aaa2cf"/>
<rect x="56.78" y="47.45" width="9.16" height="9.59" fill="#7a62ab"/>
<rect x="65.53" y="47.45" width="9.16" height="9.59" fill="#5b2a93"/>
<rect x="74.28" y="47.45" width="9.16" height="9.59" fill="#7a62ab"/>
<rect x="83.04" y="47.45" width="9.16" height="9.59" fill="#aaa2cf"/>
<rect x="91.80" y="47.45" width="9.16" height="9.59" fill="#d8d8ec"/>
<rect x="100.55" y="47.45" width="9.16" height="9.59" fill="#d8d8ec"/>
<rect x="109.31" y="47.45" width="9.16" height="9.59" fill="#7a62ab"/>
<rect x="118.06" y="47.45" width="9.16" height="9.59" fill="#7a62ab"/>
<rect x="126.82" y="47.45" width="9.16" height="9.59" fill="#7a62ab"/>
<rect x="39.27" y="56.64" width="9.16" height="9.59" fill="#5b2a93"/>
<rect x="48.02" y="56.64" width="9.16" height="9.59" fill="#5b2a93"/>
<rect x="56.78" y="56.64" width="9.16" height="9.59" fill="#45127a"/>
<rect x="65.53" y="56.64" width="9.16" height="9.59" fill="#7a62ab"/>
<rect x="74.28" y="56.64" width="9.16" height="9.59" fill="#7a62ab"/>
<rect x="83.04" y="56.64" width="9.16" height="9.59" fill="#5b2a93"/>
<rect x="91.80" y="56.64" width="9.16" height="9.59" fill="#7a62ab"/>
<rect x="100.55" y="56.64" width="9.16" height="9.59" fill="#5b2a93"/>
<rect x="109.31" y="56.64" width="9.16" height="9.59" fill="#5b2a93"/>
<rect x="118.06" y="56.64" width="9.16" height="9.59" fill="#45127a"/>
<rect x="126.82" y="56.64" width="9.16" height="9.59" fill="#5b2a93"/>
<rect x="135.57" y="56.64" width="9.16" height="9.59" fill="#7a62ab"/>
<rect x="144.33" y="56.64" width="9.16" height="9.59" fill="#aaa2cf"/>
<rect x="153.08" y="56.64" width="9.16" height="9.59" fill="#aaa2cf"/>
<rect x="39.27" y="65.83" width="9.16" height="9.59" fill="#5b2a93"/>
<rect x="48.02" y="65.83" width="9.16" height="9.59" fill="#5b2a93"/>
<rect x="56.78" y="65.83" width="9.16" height="9.59" fill="#aaa2cf"/>
<rect x="65.53" y="65.83" width="9.16" height="9.59" fill="#7a62ab"/>
<rect x="74.28" y="65.83" width="9.16" height="9.59" fill="#7a62ab"/>
<rect x="83.04" y="65.83" width="9.16" height="9.59" fill="#7a62ab"/>
<rect x="91.80" y="65.83" width="9.16" height="9.59" fill="#7a62ab"/>
<rect x="100.55" y="65.83" width="9.16" height="9.59" fill="#7a62ab"/>
<rect x="109.31" y="65.83" width="9.16" height="9.59" fill="#aaa2cf"/>
<rect x="118.06" y="65.83" width="9.16" height="9.59" fill="#7a62ab"/>
<rect x="126.82" y="65.83" width="9.16" height="9.59" fill="#45127a"/>
<rect x="135.57" y="65.83" width="9.16" height="9.59" fill="#5b2a93"/>
<rect x="144.33" y="65.83" width="9.16" height="9.59" fill="#5b2a93"/>
<rect x="153.08" y="65.83" width="9.16" height="9.59" fill="#7a62ab"/>
<rect x="30.51" y="75.01" width="9.16" height="9.59" fill="#5b2a93"/>
<rect x="39.27" y="75.01" width="9.16" height="9.59" fill="#45127a"/>
<rect x="48.02" y="75.01" width="9.16" height="9.59" fill="#45127a"/>
<rect x="56.78" y="75.01" width="9.16" height="9.59" fill="#5b2a93"/>
<rect x="65.53" y="75.01" width="9.16" height="9.59" fill="#5b2a93"/>
<rect x="74.28" y="75.01" width="9.16" height="9.59" fill="#5b2a93"/>
<rect x="83.04" y="75.01" width="9.16" height="9.59" fill="#5b2a93"/>
<rect x="91.80" y="75.01" width="9.16" height="9.59" fill="#5b2a93"/>
<rect x="100.55" y="75.01" width="9.16" height="9.59" fill="#7a62ab"/>
<rect x="109.31" y="75.01" width="9.16" height="9.59" fill="#7a62ab"/>
<rect x="118.06" y="75.01" width="9.16" height="9.59" fill="#aaa2cf"/>
<rect x="126.82" y="75.01" width="9.16" height="9.59" fill="#7a62ab"/>
<rect x="135.57" y="75.01" width="9.16" height="9.59" fill="#5b2a93"/>
<rect x="144.33" y="75.01" width="9.16" height="9.59" fill="#7a62ab"/>
<rect x="153.08" y="75.01" width="9.16" height="9.59" fill="#aaa2cf"/>
<rect x="161.84" y="75.01" width="9.16" height="9.59" fill="#fde0bc"/>
<rect x="21.76" y="84.19" width="9.16" height="9.59" fill="#5b2a93"/>
<rect x="30.51" y="84.19" width="9.16" height="9.59" fill="#45127a"/>
<rect x="39.27" y="84.19" width="9.16" height="9.59" fill="#45127a"/>
<rect x="48.02" y="84.19" width="9.16" height="9.59" fill="#45127a"/>
<rect x="56.78" y="84.19" width="9.16" height="9.59" fill="#45127a"/>
<rect x="65.53" y="84.19" width="9.16" height="9.59" fill="#45127a"/>
<rect x="74.28" y="84.19" width="9.16" height="9.59" fill="#5b2a93"/>
<rect x="83.04" y="84.19" width="9.16" height="9.59" fill="#5b2a93"/>
<rect x="91.80" y="84.19" width="9.16" height="9.59" fill="#5b2a93"/>
<rect x="100.55" y="84.19" width="9.16" height="9.59" fill="#7a62ab"/>
<rect x="109.31" y="84.19" width="9.16" height="9.59" fill="#7a62ab"/>
<rect x="118.06" y="84.19" width="9.16" height="9.59" fill="#aaa2cf"/>
<rect x="126.82" y="84.19" width="9.16" height="9.59" fill="#aaa2cf"/>
<rect x="135.57" y="84.19" width="9.16" height="9.59" fill="#aaa2cf"/>
<rect x="144.33" y="84.19" width="9.16" height="9.59" fill="#aaa2cf"/>
<rect x="153.08" y="84.19" width="9.16" height="9.59" fill="#d8d8ec"/>
<rect x="161.84" y="84.19" width="9.16" height="9.59" fill="#fde0bc"/>
<rect x="170.59" y="84.19" width="9.16" height="9.59" fill="#fde0bc"/>
<rect x="21.76" y="93.38" width="9.16" height="9.59" fill="#5b2a93"/>
<rect x="30.51" y="93.38" width="9.16" height="9.59" fill="#45127a"/>
<rect x="39.27" y="93.38" width="9.16" height="9.59" fill="#45127a"/>
<rect x="48.02" y="93.38" width="9.16" height="9.59" fill="#5b2a93"/>
<rect x="56.78" y="93.38" width="9.16" height="9.59" fill="#5b2a93"/>
<rect x="65.53" y="93.38" width="9.16" height="9.59" fill="#7a62ab"/>
<rect x="74.28" y="93.38" width="9.16" height="9.59" fill="#7a62ab"/>
<rect x="83.04" y="93.38" width="9.16" height="9.59" fill="#7a62ab"/>
<rect x="91.80" y="93.38" width="9.16" height="9.59" fill="#aaa2cf"/>
<rect x="100.55" y="93.38" width="9.16" height="9.59" fill="#fde0bc"/>
<rect x="109.31" y="93.38" width="9.16" height="9.59" fill="#d8d8ec"/>
<rect x="118.06" y="93.38" width="9.16" height="9.59" fill="#d8d8ec"/>
<rect x="126.82" y="93.38" width="9.16" height="9.59" fill="#d8d8ec"/>
<rect x="135.57" y="93.38" width="9.16" height="9.59" fill="#fde0bc"/>
<rect x="144.33" y="93.38" width="9.16" height="9.59" fill="#d8d8ec"/>
<rect x="153.08" y="93.38" width="9.16" height="9.59" fill="#fde0bc"/>
<rect x="161.84" y="93.38" width="9.16" height="9.59" fill="#fde0bc"/>
<rect x="170.59" y="93.38" width="9.16" height="9.59" fill="#fbbd70"/>
<rect x="179.35" y="93.38" width="9.16" height="9.59" fill="#fde0bc"/>
<rect x="188.10" y="93.38" width="9.16" height="9.59" fill="#fbbd70"/>
<rect x="21.76" y="102.56" width="9.16" height="9.59" fill="#5b2a93"/>
<rect x="30.51" y="102.56" width="9.16" height="9.59" fill="#5b2a93"/>
<rect x="39.27" y="102.56" width="9.16" height="9.59" fill="#5b2a93"/>
<rect x="48.02" y="102.56" width="9.16" height="9.59" fill="#7a62ab"/>
<rect x="56.78" y="102.56" width="9.16" height="9.59" fill="#5b2a93"/>
<rect x="65.53" y="102.56" width="9.16" height="9.59" fill="#7a62ab"/>
<rect x="74.28" y="102.56" width="9.16" height="9.59" fill="#7a62ab"/>
<rect x="83.04" y="102.56" width="9.16" height="9.59" fill="#aaa2cf"/>
<rect x="91.80" y="102.56" width="9.16" height="9.59" fill="#d8d8ec"/>
<rect x="100.55" y="102.56" width="9.16" height="9.59" fill="#fde0bc"/>
<rect x="109.31" y="102.56" width="9.16" height="9.59" fill="#fde0bc"/>
<rect x="118.06" y="102.56" width="9.16" height="9.59" fill="#d8d8ec"/>
<rect x="126.82" y="102.56" width="9.16" height="9.59" fill="#fbbd70"/>
<rect x="135.57" y="102.56" width="9.16" height="9.59" fill="#fbbd70"/>
<rect x="144.33" y="102.56" width="9.16" height="9.59" fill="#fbbd70"/>
<rect x="153.08" y="102.56" width="9.16" height="9.59" fill="#fde0bc"/>
<rect x="161.84" y="102.56" width="9.16" height="9.59" fill="#fbbd70"/>
<rect x="170.59" y="102.56" width="9.16" height="9.59" fill="#fbbd70"/>
<rect x="179.35" y="102.56" width="9.16" height="9.59" fill="#fbbd70"/>
<rect x="188.10" y="102.56" width="9.16" height="9.59" fill="#f0983a"/>
<rect x="196.86" y="102.56" width="9.16" height="9.59" fill="#f0983a"/>
<rect x="205.61" y="102.56" width="9.16" height="9.59" fill="#f0983a"/>
<rect x="214.37" y="102.56" width="9.16" height="9.59" fill="#fbbd70"/>
<rect x="21.76" y="111.75" width="9.16" height="9.59" fill="#5b2a93"/>
<rect x="30.51" y="111.75" width="9.16" height="9.59" fill="#45127a"/>
<rect x="39.27" y="111.75" width="9.16" height="9.59" fill="#5b2a93"/>
<rect x="48.02" y="111.75" width="9.16" height="9.59" fill="#7a62ab"/>
<rect x="56.78" y="111.75" width="9.16" height="9.59" fill="#7a62ab"/>
<rect x="65.53" y="111.75" width="9.16" height="9.59" fill="#7a62ab"/>
<rect x="74.28" y="111.75" width="9.16" height="9.59" fill="#7a62ab"/>
<rect x="83.04" y="111.75" width="9.16" height="9.59" fill="#aaa2cf"/>
<rect x="91.80" y="111.75" width="9.16" height="9.59" fill="#d8d8ec"/>
<rect x="100.55" y="111.75" width="9.16" height="9.59" fill="#fde0bc"/>
<rect x="109.31" y="111.75" width="9.16" height="9.59" fill="#fde0bc"/>
<rect x="118.06" y="111.75" width="9.16" height="9.59" fill="#fde0bc"/>
<rect x="126.82" y="111.75" width="9.16" height="9.59" fill="#f0983a"/>
<rect x="135.57" y="111.75" width="9.16" height="9.59" fill="#f0983a"/>
<rect x="144.33" y="111.75" width="9.16" height="9.59" fill="#f0983a"/>
<rect x="153.08" y="111.75" width="9.16" height="9.59" fill="#f0983a"/>
<rect x="161.84" y="111.75" width="9.16" height="9.59" fill="#f0983a"/>
<rect x="170.59" y="111.75" width="9.16" height="9.59" fill="#f0983a"/>
<rect x="179.35" y="111.75" width="9.16" height="9.59" fill="#cc6a10"/>
<rect x="188.10" y="111.75" width="9.16" height="9.59" fill="#cc6a10"/>
<rect x="196.86" y="111.75" width="9.16" height="9.59" fill="#f0983a"/>
<rect x="205.61" y="111.75" width="9.16" height="9.59" fill="#fbbd70"/>
<rect x="214.37" y="111.75" width="9.16" height="9.59" fill="#fbbd70"/>
<rect x="223.12" y="111.75" width="9.16" height="9.59" fill="#d8d8ec"/>
<rect x="30.51" y="120.94" width="9.16" height="9.59" fill="#7a62ab"/>
<rect x="39.27" y="120.94" width="9.16" height="9.59" fill="#5b2a93"/>
<rect x="48.02" y="120.94" width="9.16" height="9.59" fill="#5b2a93"/>
<rect x="56.78" y="120.94" width="9.16" height="9.59" fill="#7a62ab"/>
<rect x="65.53" y="120.94" width="9.16" height="9.59" fill="#aaa2cf"/>
<rect x="74.28" y="120.94" width="9.16" height="9.59" fill="#aaa2cf"/>
<rect x="83.04" y="120.94" width="9.16" height="9.59" fill="#aaa2cf"/>
<rect x="91.80" y="120.94" width="9.16" height="9.59" fill="#d8d8ec"/>
<rect x="100.55" y="120.94" width="9.16" height="9.59" fill="#fbbd70"/>
<rect x="109.31" y="120.94" width="9.16" height="9.59" fill="#f0983a"/>
<rect x="118.06" y="120.94" width="9.16" height="9.59" fill="#fbbd70"/>
<rect x="126.82" y="120.94" width="9.16" height="9.59" fill="#cc6a10"/>
<rect x="135.57" y="120.94" width="9.16" height="9.59" fill="#f0983a"/>
<rect x="144.33" y="120.94" width="9.16" height="9.59" fill="#f0983a"/>
<rect x="153.08" y="120.94" width="9.16" height="9.59" fill="#f0983a"/>
<rect x="161.84" y="120.94" width="9.16" height="9.59" fill="#f0983a"/>
<rect x="170.59" y="120.94" width="9.16" height="9.59" fill="#f0983a"/>
<rect x="179.35" y="120.94" width="9.16" height="9.59" fill="#cc6a10"/>
<rect x="188.10" y="120.94" width="9.16" height="9.59" fill="#cc6a10"/>
<rect x="196.86" y="120.94" width="9.16" height="9.59" fill="#cc6a10"/>
<rect x="205.61" y="120.94" width="9.16" height="9.59" fill="#fbbd70"/>
<rect x="214.37" y="120.94" width="9.16" height="9.59" fill="#fde0bc"/>
<rect x="223.12" y="120.94" width="9.16" height="9.59" fill="#aaa2cf"/>
<rect x="39.27" y="130.12" width="9.16" height="9.59" fill="#7a62ab"/>
<rect x="48.02" y="130.12" width="9.16" height="9.59" fill="#45127a"/>
<rect x="56.78" y="130.12" width="9.16" height="9.59" fill="#7a62ab"/>
<rect x="65.53" y="130.12" width="9.16" height="9.59" fill="#aaa2cf"/>
<rect x="74.28" y="130.12" width="9.16" height="9.59" fill="#aaa2cf"/>
<rect x="83.04" y="130.12" width="9.16" height="9.59" fill="#d8d8ec"/>
<rect x="91.80" y="130.12" width="9.16" height="9.59" fill="#fde0bc"/>
<rect x="100.55" y="130.12" width="9.16" height="9.59" fill="#fbbd70"/>
<rect x="109.31" y="130.12" width="9.16" height="9.59" fill="#f0983a"/>
<rect x="118.06" y="130.12" width="9.16" height="9.59" fill="#f0983a"/>
<rect x="126.82" y="130.12" width="9.16" height="9.59" fill="#cc6a10"/>
<rect x="135.57" y="130.12" width="9.16" height="9.59" fill="#cc6a10"/>
<rect x="144.33" y="130.12" width="9.16" height="9.59" fill="#f0983a"/>
<rect x="153.08" y="130.12" width="9.16" height="9.59" fill="#f0983a"/>
<rect x="161.84" y="130.12" width="9.16" height="9.59" fill="#f0983a"/>
<rect x="170.59" y="130.12" width="9.16" height="9.59" fill="#f0983a"/>
<rect x="179.35" y="130.12" width="9.16" height="9.59" fill="#f0983a"/>
<rect x="188.10" y="130.12" width="9.16" height="9.59" fill="#f0983a"/>
<rect x="196.86" y="130.12" width="9.16" height="9.59" fill="#f0983a"/>
<rect x="205.61" y="130.12" width="9.16" height="9.59" fill="#fbbd70"/>
<rect x="214.37" y="130.12" width="9.16" height="9.59" fill="#d8d8ec"/>
<rect x="39.27" y="139.31" width="9.16" height="9.59" fill="#aaa2cf"/>
<rect x="48.02" y="139.31" width="9.16" height="9.59" fill="#5b2a93"/>
<rect x="56.78" y="139.31" width="9.16" height="9.59" fill="#45127a"/>
<rect x="65.53" y="139.31" width="9.16" height="9.59" fill="#45127a"/>
<rect x="74.28" y="139.31" width="9.16" height="9.59" fill="#7a62ab"/>
<rect x="83.04" y="139.31" width="9.16" height="9.59" fill="#aaa2cf"/>
<rect x="91.80" y="139.31" width="9.16" height="9.59" fill="#d8d8ec"/>
<rect x="100.55" y="139.31" width="9.16" height="9.59" fill="#fde0bc"/>
<rect x="109.31" y="139.31" width="9.16" height="9.59" fill="#fbbd70"/>
<rect x="118.06" y="139.31" width="9.16" height="9.59" fill="#f0983a"/>
<rect x="126.82" y="139.31" width="9.16" height="9.59" fill="#cc6a10"/>
<rect x="135.57" y="139.31" width="9.16" height="9.59" fill="#cc6a10"/>
<rect x="144.33" y="139.31" width="9.16" height="9.59" fill="#f0983a"/>
<rect x="153.08" y="139.31" width="9.16" height="9.59" fill="#f0983a"/>
<rect x="161.84" y="139.31" width="9.16" height="9.59" fill="#f0983a"/>
<rect x="170.59" y="139.31" width="9.16" height="9.59" fill="#f0983a"/>
<rect x="179.35" y="139.31" width="9.16" height="9.59" fill="#f0983a"/>
<rect x="188.10" y="139.31" width="9.16" height="9.59" fill="#f0983a"/>
<rect x="196.86" y="139.31" width="9.16" height="9.59" fill="#fbbd70"/>
<rect x="205.61" y="139.31" width="9.16" height="9.59" fill="#d8d8ec"/>
<rect x="214.37" y="139.31" width="9.16" height="9.59" fill="#d8d8ec"/>
<rect x="39.27" y="148.49" width="9.16" height="9.59" fill="#fbbd70"/>
<rect x="48.02" y="148.49" width="9.16" height="9.59" fill="#f0983a"/>
<rect x="56.78" y="148.49" width="9.16" height="9.59" fill="#fde0bc"/>
<rect x="65.53" y="148.49" width="9.16" height="9.59" fill="#aaa2cf"/>
<rect x="74.28" y="148.49" width="9.16" height="9.59" fill="#5b2a93"/>
<rect x="83.04" y="148.49" width="9.16" height="9.59" fill="#5b2a93"/>
<rect x="91.80" y="148.49" width="9.16" height="9.59" fill="#fde0bc"/>
<rect x="100.55" y="148.49" width="9.16" height="9.59" fill="#fde0bc"/>
<rect x="109.31" y="148.49" width="9.16" height="9.59" fill="#fbbd70"/>
<rect x="118.06" y="148.49" width="9.16" height="9.59" fill="#fbbd70"/>
<rect x="126.82" y="148.49" width="9.16" height="9.59" fill="#f0983a"/>
<rect x="135.57" y="148.49" width="9.16" height="9.59" fill="#f0983a"/>
<rect x="144.33" y="148.49" width="9.16" height="9.59" fill="#f0983a"/>
<rect x="153.08" y="148.49" width="9.16" height="9.59" fill="#f0983a"/>
<rect x="161.84" y="148.49" width="9.16" height="9.59" fill="#fbbd70"/>
<rect x="170.59" y="148.49" width="9.16" height="9.59" fill="#fbbd70"/>
<rect x="179.35" y="148.49" width="9.16" height="9.59" fill="#f0983a"/>
<rect x="188.10" y="148.49" width="9.16" height="9.59" fill="#f0983a"/>
<rect x="196.86" y="148.49" width="9.16" height="9.59" fill="#d8d8ec"/>
<rect x="205.61" y="148.49" width="9.16" height="9.59" fill="#aaa2cf"/>
<rect x="48.02" y="157.68" width="9.16" height="9.59" fill="#fde0bc"/>
<rect x="56.78" y="157.68" width="9.16" height="9.59" fill="#f0983a"/>
<rect x="65.53" y="157.68" width="9.16" height="9.59" fill="#cc6a10"/>
<rect x="74.28" y="157.68" width="9.16" height="9.59" fill="#cc6a10"/>
<rect x="83.04" y="157.68" width="9.16" height="9.59" fill="#45127a"/>
<rect x="91.80" y="157.68" width="9.16" height="9.59" fill="#fde0bc"/>
<rect x="100.55" y="157.68" width="9.16" height="9.59" fill="#fde0bc"/>
<rect x="109.31" y="157.68" width="9.16" height="9.59" fill="#fde0bc"/>
<rect x="118.06" y="157.68" width="9.16" height="9.59" fill="#fde0bc"/>
<rect x="126.82" y="157.68" width="9.16" height="9.59" fill="#fde0bc"/>
<rect x="135.57" y="157.68" width="9.16" height="9.59" fill="#fbbd70"/>
<rect x="144.33" y="157.68" width="9.16" height="9.59" fill="#fbbd70"/>
<rect x="153.08" y="157.68" width="9.16" height="9.59" fill="#fbbd70"/>
<rect x="161.84" y="157.68" width="9.16" height="9.59" fill="#fbbd70"/>
<rect x="170.59" y="157.68" width="9.16" height="9.59" fill="#fbbd70"/>
<rect x="179.35" y="157.68" width="9.16" height="9.59" fill="#fbbd70"/>
<rect x="188.10" y="157.68" width="9.16" height="9.59" fill="#fbbd70"/>
<rect x="196.86" y="157.68" width="9.16" height="9.59" fill="#d8d8ec"/>
<rect x="205.61" y="157.68" width="9.16" height="9.59" fill="#aaa2cf"/>
<rect x="65.53" y="166.86" width="9.16" height="9.59" fill="#fbbd70"/>
<rect x="74.28" y="166.86" width="9.16" height="9.59" fill="#f0983a"/>
<rect x="83.04" y="166.86" width="9.16" height="9.59" fill="#f0983a"/>
<rect x="91.80" y="166.86" width="9.16" height="9.59" fill="#f0983a"/>
<rect x="100.55" y="166.86" width="9.16" height="9.59" fill="#d8d8ec"/>
<rect x="109.31" y="166.86" width="9.16" height="9.59" fill="#fde0bc"/>
<rect x="118.06" y="166.86" width="9.16" height="9.59" fill="#fde0bc"/>
<rect x="126.82" y="166.86" width="9.16" height="9.59" fill="#fde0bc"/>
<rect x="135.57" y="166.86" width="9.16" height="9.59" fill="#fde0bc"/>
<rect x="144.33" y="166.86" width="9.16" height="9.59" fill="#fde0bc"/>
<rect x="153.08" y="166.86" width="9.16" height="9.59" fill="#fbbd70"/>
<rect x="161.84" y="166.86" width="9.16" height="9.59" fill="#fbbd70"/>
<rect x="170.59" y="166.86" width="9.16" height="9.59" fill="#fbbd70"/>
<rect x="179.35" y="166.86" width="9.16" height="9.59" fill="#fbbd70"/>
<rect x="188.10" y="166.86" width="9.16" height="9.59" fill="#d8d8ec"/>
<rect x="196.86" y="166.86" width="9.16" height="9.59" fill="#aaa2cf"/>
<rect x="205.61" y="166.86" width="9.16" height="9.59" fill="#aaa2cf"/>
<rect x="65.53" y="176.05" width="9.16" height="9.59" fill="#fbbd70"/>
<rect x="74.28" y="176.05" width="9.16" height="9.59" fill="#f0983a"/>
<rect x="83.04" y="176.05" width="9.16" height="9.59" fill="#cc6a10"/>
<rect x="91.80" y="176.05" width="9.16" height="9.59" fill="#fbbd70"/>
<rect x="100.55" y="176.05" width="9.16" height="9.59" fill="#d8d8ec"/>
<rect x="109.31" y="176.05" width="9.16" height="9.59" fill="#d8d8ec"/>
<rect x="118.06" y="176.05" width="9.16" height="9.59" fill="#fde0bc"/>
<rect x="126.82" y="176.05" width="9.16" height="9.59" fill="#fde0bc"/>
<rect x="135.57" y="176.05" width="9.16" height="9.59" fill="#fde0bc"/>
<rect x="144.33" y="176.05" width="9.16" height="9.59" fill="#fde0bc"/>
<rect x="153.08" y="176.05" width="9.16" height="9.59" fill="#fde0bc"/>
<rect x="161.84" y="176.05" width="9.16" height="9.59" fill="#fde0bc"/>
<rect x="170.59" y="176.05" width="9.16" height="9.59" fill="#fde0bc"/>
<rect x="179.35" y="176.05" width="9.16" height="9.59" fill="#d8d8ec"/>
<rect x="188.10" y="176.05" width="9.16" height="9.59" fill="#aaa2cf"/>
<rect x="196.86" y="176.05" width="9.16" height="9.59" fill="#7a62ab"/>
<rect x="74.28" y="185.23" width="9.16" height="9.59" fill="#f0983a"/>
<rect x="83.04" y="185.23" width="9.16" height="9.59" fill="#fbbd70"/>
<rect x="91.80" y="185.23" width="9.16" height="9.59" fill="#d8d8ec"/>
<rect x="100.55" y="185.23" width="9.16" height="9.59" fill="#d8d8ec"/>
<rect x="109.31" y="185.23" width="9.16" height="9.59" fill="#d8d8ec"/>
<rect x="118.06" y="185.23" width="9.16" height="9.59" fill="#d8d8ec"/>
<rect x="126.82" y="185.23" width="9.16" height="9.59" fill="#aaa2cf"/>
<rect x="135.57" y="185.23" width="9.16" height="9.59" fill="#d8d8ec"/>
<rect x="144.33" y="185.23" width="9.16" height="9.59" fill="#d8d8ec"/>
<rect x="153.08" y="185.23" width="9.16" height="9.59" fill="#d8d8ec"/>
<rect x="161.84" y="185.23" width="9.16" height="9.59" fill="#d8d8ec"/>
<rect x="170.59" y="185.23" width="9.16" height="9.59" fill="#d8d8ec"/>
<rect x="179.35" y="185.23" width="9.16" height="9.59" fill="#aaa2cf"/>
<rect x="188.10" y="185.23" width="9.16" height="9.59" fill="#aaa2cf"/>
<rect x="196.86" y="185.23" width="9.16" height="9.59" fill="#aaa2cf"/>
<rect x="74.28" y="194.42" width="9.16" height="11.59" fill="#f0983a"/>
<rect x="83.04" y="194.42" width="9.16" height="11.59" fill="#d8d8ec"/>
<rect x="91.80" y="194.42" width="9.16" height="11.59" fill="#aaa2cf"/>
<rect x="100.55" y="194.42" width="9.16" height="11.59" fill="#d8d8ec"/>
<rect x="109.31" y="194.42" width="9.16" height="11.59" fill="#fde0bc"/>
<rect x="118.06" y="194.42" width="9.16" height="11.59" fill="#d8d8ec"/>
<rect x="126.82" y="194.42" width="9.16" height="11.59" fill="#aaa2cf"/>
<rect x="135.57" y="194.42" width="9.16" height="11.59" fill="#aaa2cf"/>
<rect x="144.33" y="194.42" width="9.16" height="11.59" fill="#aaa2cf"/>
<rect x="153.08" y="194.42" width="9.16" height="11.59" fill="#7a62ab"/>
<rect x="161.84" y="194.42" width="9.16" height="11.59" fill="#5b2a93"/>
<rect x="170.59" y="194.42" width="9.16" height="11.59" fill="#5b2a93"/>
<rect x="179.35" y="194.42" width="9.16" height="11.59" fill="#aaa2cf"/>
</g>
<polygon points="11.4,24.5 17.4,24.5 17.4,37.9 19.7,43.2 24.1,47.6 29.4,49.3 35.6,46.7 40.0,46.7 44.4,50.2 47.0,48.5 50.6,41.4 55.8,37.9 62.9,36.1 69.1,32.6 70.8,35.2 72.0,37.0 77.1,35.2 78.8,39.6 84.1,40.5 91.2,39.6 98.2,40.5 105.3,41.4 112.3,39.6 115.9,41.4 117.6,46.7 122.9,51.1 127.3,55.8 134.6,61.2 141.9,61.2 151.0,64.9 157.4,68.5 162.0,74.9 163.8,80.4 163.8,85.9 162.9,90.4 168.4,91.3 174.7,91.3 180.2,94.1 187.5,97.7 189.3,100.5 199.0,101.0 207.4,103.1 215.7,106.2 221.9,110.4 228.2,115.6 229.2,120.8 227.1,129.1 221.9,137.4 215.7,144.7 211.5,152.0 210.5,162.4 210.5,172.8 207.4,181.1 201.1,189.4 193.8,195.7 186.6,199.8 178.2,203.0 174.1,204.6 73.4,204.6 74.5,197.8 75.5,187.4 75.5,174.9 72.4,168.6 66.2,164.5 57.8,160.3 50.6,152.0 46.4,141.6 41.2,131.2 36.0,122.9 29.8,116.6 27.7,108.3 28.5,96.1 29.4,89.0 32.9,82.0 36.5,78.4 40.9,73.1 43.5,67.8 44.4,62.6 44.4,55.5 41.7,52.9 32.9,56.4 29.4,54.6 25.9,51.1 18.8,49.3 13.5,45.8 11.4,41.4" fill="none" stroke="#8c8c8c" stroke-width="0.7"/>
<polygon points="34.7,106.7 36.5,97.9 39.1,92.6 42.6,85.5 47.1,80.2 52.4,76.7 55.0,74.1 56.8,78.5 61.2,80.2 68.2,78.5 77.1,78.5 84.1,77.6 91.2,78.5 94.7,80.2 98.2,82.0 101.8,80.2 101.8,71.4 105.3,69.6 108.8,69.6 112.3,68.8 115.9,67.0 119.4,66.1 121.8,68.8 121.8,71.3 121.8,78.6 123.6,82.2 128.2,80.4 129.1,76.7 130.9,80.4 138.2,78.6 147.4,78.6 151.9,82.2 153.8,87.7 155.6,92.3 152.8,95.9 157.4,96.8 159.2,99.6 163.8,98.6 166.5,100.5 166.8,108.3 171.0,112.5 176.2,112.5 179.3,116.6 180.3,125.0 178.2,131.2 180.3,137.4 182.4,143.7 181.4,152.0 181.4,158.2 176.2,159.3 172.0,161.4 167.8,163.4 161.6,164.5 155.4,167.6 150.2,171.8 148.1,168.6 145.0,164.5 140.8,162.4 138.7,158.2 136.6,154.1 132.5,153.0 129.4,154.1 126.2,156.2 124.2,160.3 123.1,166.6 122.1,171.8 118.2,172.8 111.9,179.0 107.8,184.2 101.5,183.2 96.3,179.0 91.1,174.9 87.0,166.6 82.8,160.3 79.7,156.2 76.6,153.0 72.4,156.2 69.3,160.3 64.1,158.2 59.9,156.2 55.8,152.0 51.6,145.8 48.5,139.5 45.4,133.3 42.2,127.0 39.1,120.8 36.0,116.6 35.0,108.3" fill="none" stroke="#000" stroke-width="1.7" stroke-linejoin="round"/>
<line x1="40.5" y1="124.3" x2="180.0" y2="124.3" stroke="#000" stroke-width="1.5"/>
<circle cx="17.40" cy="24.50" r="1.7" fill="#000"/>
<circle cx="17.40" cy="42.87" r="1.7" fill="#000"/>
<circle cx="78.69" cy="42.87" r="1.7" fill="#000"/>
<circle cx="43.66" cy="52.05" r="1.7" fill="#000"/>
<circle cx="52.42" cy="52.05" r="1.7" fill="#000"/>
<circle cx="69.93" cy="52.05" r="1.7" fill="#000"/>
<circle cx="78.69" cy="52.05" r="1.7" fill="#000"/>
<circle cx="113.71" cy="52.05" r="1.7" fill="#000"/>
<circle cx="52.42" cy="61.24" r="1.7" fill="#000"/>
<circle cx="61.18" cy="61.24" r="1.7" fill="#000"/>
<circle cx="69.93" cy="61.24" r="1.7" fill="#000"/>
<circle cx="78.69" cy="61.24" r="1.7" fill="#000"/>
<circle cx="87.44" cy="61.24" r="1.7" fill="#000"/>
<circle cx="96.19" cy="61.24" r="1.7" fill="#000"/>
<circle cx="104.95" cy="61.24" r="1.7" fill="#000"/>
<circle cx="113.71" cy="61.24" r="1.7" fill="#000"/>
<circle cx="122.46" cy="61.24" r="1.7" fill="#000"/>
<circle cx="131.22" cy="61.24" r="1.7" fill="#000"/>
<circle cx="52.42" cy="70.43" r="1.7" fill="#000"/>
<circle cx="61.18" cy="70.43" r="1.7" fill="#000"/>
<circle cx="69.93" cy="70.43" r="1.7" fill="#000"/>
<circle cx="78.69" cy="70.43" r="1.7" fill="#000"/>
<circle cx="87.44" cy="70.43" r="1.7" fill="#000"/>
<circle cx="96.19" cy="70.43" r="1.7" fill="#000"/>
<circle cx="104.95" cy="70.43" r="1.7" fill="#000"/>
<circle cx="113.71" cy="70.43" r="1.7" fill="#000"/>
<circle cx="131.22" cy="70.43" r="1.7" fill="#000"/>
<circle cx="139.97" cy="70.43" r="1.7" fill="#000"/>
<circle cx="148.73" cy="70.43" r="1.7" fill="#000"/>
<circle cx="157.48" cy="70.43" r="1.7" fill="#000"/>
<circle cx="43.66" cy="79.61" r="1.7" fill="#000"/>
<circle cx="69.93" cy="79.61" r="1.7" fill="#000"/>
<circle cx="78.69" cy="79.61" r="1.7" fill="#000"/>
<circle cx="87.44" cy="79.61" r="1.7" fill="#000"/>
<circle cx="104.95" cy="79.61" r="1.7" fill="#000"/>
<circle cx="113.71" cy="79.61" r="1.7" fill="#000"/>
<circle cx="157.48" cy="79.61" r="1.7" fill="#000"/>
<circle cx="34.91" cy="88.80" r="1.7" fill="#000"/>
<circle cx="43.66" cy="88.80" r="1.7" fill="#000"/>
<circle cx="52.42" cy="88.80" r="1.7" fill="#000"/>
<circle cx="61.18" cy="88.80" r="1.7" fill="#000"/>
<circle cx="69.93" cy="88.80" r="1.7" fill="#000"/>
<circle cx="78.69" cy="88.80" r="1.7" fill="#000"/>
<circle cx="87.44" cy="88.80" r="1.7" fill="#000"/>
<circle cx="96.19" cy="88.80" r="1.7" fill="#000"/>
<circle cx="104.95" cy="88.80" r="1.7" fill="#000"/>
<circle cx="113.71" cy="88.80" r="1.7" fill="#000"/>
<circle cx="34.91" cy="97.98" r="1.7" fill="#000"/>
<circle cx="43.66" cy="97.98" r="1.7" fill="#000"/>
<circle cx="52.42" cy="97.98" r="1.7" fill="#000"/>
<circle cx="61.18" cy="97.98" r="1.7" fill="#000"/>
<circle cx="69.93" cy="97.98" r="1.7" fill="#000"/>
<circle cx="78.69" cy="97.98" r="1.7" fill="#000"/>
<circle cx="87.44" cy="97.98" r="1.7" fill="#000"/>
<circle cx="96.19" cy="97.98" r="1.7" fill="#000"/>
<circle cx="183.75" cy="97.98" r="1.7" fill="#000"/>
<circle cx="43.66" cy="107.17" r="1.7" fill="#000"/>
<circle cx="52.42" cy="107.17" r="1.7" fill="#000"/>
<circle cx="61.18" cy="107.17" r="1.7" fill="#000"/>
<circle cx="69.93" cy="107.17" r="1.7" fill="#000"/>
<circle cx="78.69" cy="107.17" r="1.7" fill="#000"/>
<circle cx="87.44" cy="107.17" r="1.7" fill="#000"/>
<circle cx="139.97" cy="107.17" r="1.7" fill="#000"/>
<circle cx="148.73" cy="107.17" r="1.7" fill="#000"/>
<circle cx="174.99" cy="107.17" r="1.7" fill="#000"/>
<circle cx="183.75" cy="107.17" r="1.7" fill="#000"/>
<circle cx="192.50" cy="107.17" r="1.7" fill="#000"/>
<circle cx="201.26" cy="107.17" r="1.7" fill="#000"/>
<circle cx="210.01" cy="107.17" r="1.7" fill="#000"/>
<circle cx="43.66" cy="116.35" r="1.7" fill="#000"/>
<circle cx="52.42" cy="116.35" r="1.7" fill="#000"/>
<circle cx="61.18" cy="116.35" r="1.7" fill="#000"/>
<circle cx="69.93" cy="116.35" r="1.7" fill="#000"/>
<circle cx="78.69" cy="116.35" r="1.7" fill="#000"/>
<circle cx="87.44" cy="116.35" r="1.7" fill="#000"/>
<circle cx="131.22" cy="116.35" r="1.7" fill="#000"/>
<circle cx="139.97" cy="116.35" r="1.7" fill="#000"/>
<circle cx="148.73" cy="116.35" r="1.7" fill="#000"/>
<circle cx="157.48" cy="116.35" r="1.7" fill="#000"/>
<circle cx="166.24" cy="116.35" r="1.7" fill="#000"/>
<circle cx="174.99" cy="116.35" r="1.7" fill="#000"/>
<circle cx="183.75" cy="116.35" r="1.7" fill="#000"/>
<circle cx="192.50" cy="116.35" r="1.7" fill="#000"/>
<circle cx="201.26" cy="116.35" r="1.7" fill="#000"/>
<circle cx="210.01" cy="116.35" r="1.7" fill="#000"/>
<circle cx="218.77" cy="116.35" r="1.7" fill="#000"/>
<circle cx="43.66" cy="125.54" r="1.7" fill="#000"/>
<circle cx="52.42" cy="125.54" r="1.7" fill="#000"/>
<circle cx="61.18" cy="125.54" r="1.7" fill="#000"/>
<circle cx="69.93" cy="125.54" r="1.7" fill="#000"/>
<circle cx="78.69" cy="125.54" r="1.7" fill="#000"/>
<circle cx="87.44" cy="125.54" r="1.7" fill="#000"/>
<circle cx="122.46" cy="125.54" r="1.7" fill="#000"/>
<circle cx="131.22" cy="125.54" r="1.7" fill="#000"/>
<circle cx="139.97" cy="125.54" r="1.7" fill="#000"/>
<circle cx="148.73" cy="125.54" r="1.7" fill="#000"/>
<circle cx="157.48" cy="125.54" r="1.7" fill="#000"/>
<circle cx="166.24" cy="125.54" r="1.7" fill="#000"/>
<circle cx="174.99" cy="125.54" r="1.7" fill="#000"/>
<circle cx="183.75" cy="125.54" r="1.7" fill="#000"/>
<circle cx="192.50" cy="125.54" r="1.7" fill="#000"/>
<circle cx="201.26" cy="125.54" r="1.7" fill="#000"/>
<circle cx="210.01" cy="125.54" r="1.7" fill="#000"/>
<circle cx="227.52" cy="125.54" r="1.7" fill="#000"/>
<circle cx="52.42" cy="134.72" r="1.7" fill="#000"/>
<circle cx="61.18" cy="134.72" r="1.7" fill="#000"/>
<circle cx="69.93" cy="134.72" r="1.7" fill="#000"/>
<circle cx="113.71" cy="134.72" r="1.7" fill="#000"/>
<circle cx="122.46" cy="134.72" r="1.7" fill="#000"/>
<circle cx="131.22" cy="134.72" r="1.7" fill="#000"/>
<circle cx="139.97" cy="134.72" r="1.7" fill="#000"/>
<circle cx="148.73" cy="134.72" r="1.7" fill="#000"/>
<circle cx="157.48" cy="134.72" r="1.7" fill="#000"/>
<circle cx="166.24" cy="134.72" r="1.7" fill="#000"/>
<circle cx="174.99" cy="134.72" r="1.7" fill="#000"/>
<circle cx="183.75" cy="134.72" r="1.7" fill="#000"/>
<circle cx="192.50" cy="134.72" r="1.7" fill="#000"/>
<circle cx="201.26" cy="134.72" r="1.7" fill="#000"/>
<circle cx="61.18" cy="143.91" r="1.7" fill="#000"/>
<circle cx="69.93" cy="143.91" r="1.7" fill="#000"/>
<circle cx="78.69" cy="143.91" r="1.7" fill="#000"/>
<circle cx="113.71" cy="143.91" r="1.7" fill="#000"/>
<circle cx="122.46" cy="143.91" r="1.7" fill="#000"/>
<circle cx="131.22" cy="143.91" r="1.7" fill="#000"/>
<circle cx="139.97" cy="143.91" r="1.7" fill="#000"/>
<circle cx="148.73" cy="143.91" r="1.7" fill="#000"/>
<circle cx="157.48" cy="143.91" r="1.7" fill="#000"/>
<circle cx="166.24" cy="143.91" r="1.7" fill="#000"/>
<circle cx="174.99" cy="143.91" r="1.7" fill="#000"/>
<circle cx="183.75" cy="143.91" r="1.7" fill="#000"/>
<circle cx="192.50" cy="143.91" r="1.7" fill="#000"/>
<circle cx="52.42" cy="153.09" r="1.7" fill="#000"/>
<circle cx="87.44" cy="153.09" r="1.7" fill="#000"/>
<circle cx="113.71" cy="153.09" r="1.7" fill="#000"/>
<circle cx="122.46" cy="153.09" r="1.7" fill="#000"/>
<circle cx="131.22" cy="153.09" r="1.7" fill="#000"/>
<circle cx="139.97" cy="153.09" r="1.7" fill="#000"/>
<circle cx="148.73" cy="153.09" r="1.7" fill="#000"/>
<circle cx="157.48" cy="153.09" r="1.7" fill="#000"/>
<circle cx="166.24" cy="153.09" r="1.7" fill="#000"/>
<circle cx="174.99" cy="153.09" r="1.7" fill="#000"/>
<circle cx="183.75" cy="153.09" r="1.7" fill="#000"/>
<circle cx="192.50" cy="153.09" r="1.7" fill="#000"/>
<circle cx="210.01" cy="153.09" r="1.7" fill="#000"/>
<circle cx="69.93" cy="162.28" r="1.7" fill="#000"/>
<circle cx="78.69" cy="162.28" r="1.7" fill="#000"/>
<circle cx="87.44" cy="162.28" r="1.7" fill="#000"/>
<circle cx="157.48" cy="162.28" r="1.7" fill="#000"/>
<circle cx="166.24" cy="162.28" r="1.7" fill="#000"/>
<circle cx="183.75" cy="162.28" r="1.7" fill="#000"/>
<circle cx="210.01" cy="162.28" r="1.7" fill="#000"/>
<circle cx="78.69" cy="171.46" r="1.7" fill="#000"/>
<circle cx="96.19" cy="171.46" r="1.7" fill="#000"/>
<circle cx="139.97" cy="171.46" r="1.7" fill="#000"/>
<circle cx="78.69" cy="180.65" r="1.7" fill="#000"/>
<circle cx="87.44" cy="180.65" r="1.7" fill="#000"/>
<circle cx="201.26" cy="180.65" r="1.7" fill="#000"/>
<circle cx="78.69" cy="189.83" r="1.7" fill="#000"/>
<circle cx="201.26" cy="189.83" r="1.7" fill="#000"/>
<circle cx="78.69" cy="199.02" r="1.7" fill="#000"/>
<circle cx="166.24" cy="199.02" r="1.7" fill="#000"/>
<circle cx="174.99" cy="199.02" r="1.7" fill="#000"/>
<circle cx="183.75" cy="199.02" r="1.7" fill="#000"/>
<rect x="11.4" y="24.5" width="230.6" height="180.1" fill="none" stroke="#404040" stroke-width="0.8"/>
<path d="M120,24.5v2.2M120,204.6v-2.2M11.4,89.3h2.2M242.0,89.3h-2.2" stroke="#404040" stroke-width="0.8"/>
</g>
<rect x="250.3" y="24.50" width="16.9" height="9.30" fill="#2f6d1b"/>
<rect x="250.3" y="33.50" width="16.9" height="9.30" fill="#3e801e"/>
<rect x="250.3" y="42.51" width="16.9" height="9.30" fill="#4d9221"/>
<rect x="250.3" y="51.52" width="16.9" height="9.30" fill="#61a32e"/>
<rect x="250.3" y="60.52" width="16.9" height="9.30" fill="#75b43b"/>
<rect x="250.3" y="69.52" width="16.9" height="9.30" fill="#8ac34f"/>
<rect x="250.3" y="78.53" width="16.9" height="9.30" fill="#a1d26a"/>
<rect x="250.3" y="87.53" width="16.9" height="9.30" fill="#b8e186"/>
<rect x="250.3" y="96.54" width="16.9" height="9.30" fill="#c5e69d"/>
<rect x="250.3" y="105.54" width="16.9" height="9.30" fill="#d2ebb4"/>
<rect x="250.3" y="114.55" width="16.9" height="9.30" fill="#f5c5e2"/>
<rect x="250.3" y="123.55" width="16.9" height="9.30" fill="#f2badd"/>
<rect x="250.3" y="132.56" width="16.9" height="9.30" fill="#eeb0d8"/>
<rect x="250.3" y="141.56" width="16.9" height="9.30" fill="#e89ccc"/>
<rect x="250.3" y="150.57" width="16.9" height="9.30" fill="#e387c1"/>
<rect x="250.3" y="159.57" width="16.9" height="9.30" fill="#db6cb0"/>
<rect x="250.3" y="168.58" width="16.9" height="9.30" fill="#d2499a"/>
<rect x="250.3" y="177.58" width="16.9" height="9.30" fill="#c92784"/>
<rect x="250.3" y="186.59" width="16.9" height="9.30" fill="#b11870"/>
<rect x="250.3" y="195.59" width="16.9" height="9.30" fill="#9a095c"/>
<rect x="250.3" y="24.5" width="16.9" height="180.1" fill="none" stroke="#404040" stroke-width="0.8"/>
<text x="272.4" y="29.10" font-size="11.7" fill="#262626">1</text>
<line x1="267.2" y1="69.53" x2="263.9" y2="69.53" stroke="#404040" stroke-width="0.8"/>
<text x="272.4" y="74.12" font-size="11.7" fill="#262626">0.5</text>
<line x1="267.2" y1="114.55" x2="263.9" y2="114.55" stroke="#404040" stroke-width="0.8"/>
<text x="272.4" y="119.15" font-size="11.7" fill="#262626">0</text>
<line x1="267.2" y1="159.57" x2="263.9" y2="159.57" stroke="#404040" stroke-width="0.8"/>
<text x="272.4" y="164.17" font-size="11.7" fill="#262626">-0.5</text>
<text x="272.4" y="209.20" font-size="11.7" fill="#262626">-1</text>
<rect x="586.7" y="24.50" width="16.7" height="9.30" fill="#4169ad"/>
<rect x="586.7" y="33.50" width="16.7" height="9.30" fill="#4f7cb8"/>
<rect x="586.7" y="42.51" width="16.7" height="9.30" fill="#5d8fc2"/>
<rect x="586.7" y="51.52" width="16.7" height="9.30" fill="#71a2cc"/>
<rect x="586.7" y="60.52" width="16.7" height="9.30" fill="#84b5d7"/>
<rect x="586.7" y="69.52" width="16.7" height="9.30" fill="#98c6e0"/>
<rect x="586.7" y="78.53" width="16.7" height="9.30" fill="#add5e7"/>
<rect x="586.7" y="87.53" width="16.7" height="9.30" fill="#c2e3ef"/>
<rect x="586.7" y="96.54" width="16.7" height="9.30" fill="#d0eaf3"/>
<rect x="586.7" y="105.54" width="16.7" height="9.30" fill="#dff1f8"/>
<rect x="586.7" y="114.55" width="16.7" height="9.30" fill="#fedc92"/>
<rect x="586.7" y="123.55" width="16.7" height="9.30" fill="#fdcf81"/>
<rect x="586.7" y="132.56" width="16.7" height="9.30" fill="#fdc171"/>
<rect x="586.7" y="141.56" width="16.7" height="9.30" fill="#fbaf64"/>
<rect x="586.7" y="150.57" width="16.7" height="9.30" fill="#fa9e57"/>
<rect x="586.7" y="159.57" width="16.7" height="9.30" fill="#f78a4c"/>
<rect x="586.7" y="168.58" width="16.7" height="9.30" fill="#f27543"/>
<rect x="586.7" y="177.58" width="16.7" height="9.30" fill="#ed5f3a"/>
<rect x="586.7" y="186.59" width="16.7" height="9.30" fill="#e24532"/>
<rect x="586.7" y="195.59" width="16.7" height="9.30" fill="#d72c2a"/>
<rect x="586.7" y="24.5" width="16.7" height="180.1" fill="none" stroke="#404040" stroke-width="0.8"/>
<text x="608.6" y="29.10" font-size="11.7" fill="#262626">10</text>
<line x1="603.4000000000001" y1="69.53" x2="600.1000000000001" y2="69.53" stroke="#404040" stroke-width="0.8"/>
<text x="608.6" y="74.12" font-size="11.7" fill="#262626">5</text>
<line x1="603.4000000000001" y1="114.55" x2="600.1000000000001" y2="114.55" stroke="#404040" stroke-width="0.8"/>
<text x="608.6" y="119.15" font-size="11.7" fill="#262626">0</text>
<line x1="603.4000000000001" y1="159.57" x2="600.1000000000001" y2="159.57" stroke="#404040" stroke-width="0.8"/>
<text x="608.6" y="164.17" font-size="11.7" fill="#262626">-5</text>
<text x="608.6" y="209.20" font-size="11.7" fill="#262626">-10</text>
<rect x="250.4" y="264.40" width="16.6" height="9.30" fill="#a9570c"/>
<rect x="250.4" y="273.40" width="16.6" height="9.30" fill="#ba620c"/>
<rect x="250.4" y="282.41" width="16.6" height="9.30" fill="#cc6c0c"/>
<rect x="250.4" y="291.41" width="16.6" height="9.30" fill="#da7e1e"/>
<rect x="250.4" y="300.42" width="16.6" height="9.30" fill="#e79131"/>
<rect x="250.4" y="309.42" width="16.6" height="9.30" fill="#f1a348"/>
<rect x="250.4" y="318.43" width="16.6" height="9.30" fill="#f6b563"/>
<rect x="250.4" y="327.43" width="16.6" height="9.30" fill="#fcc77e"/>
<rect x="250.4" y="336.44" width="16.6" height="9.30" fill="#fdd39c"/>
<rect x="250.4" y="345.44" width="16.6" height="9.30" fill="#fee0b9"/>
<rect x="250.4" y="354.45" width="16.6" height="9.30" fill="#d7d5ea"/>
<rect x="250.4" y="363.45" width="16.6" height="9.30" fill="#cac6e3"/>
<rect x="250.4" y="372.46" width="16.6" height="9.30" fill="#bdb8dc"/>
<rect x="250.4" y="381.46" width="16.6" height="9.30" fill="#afa9d2"/>
<rect x="250.4" y="390.47" width="16.6" height="9.30" fill="#a29ac9"/>
<rect x="250.4" y="399.47" width="16.6" height="9.30" fill="#9386be"/>
<rect x="250.4" y="408.48" width="16.6" height="9.30" fill="#826fb2"/>
<rect x="250.4" y="417.48" width="16.6" height="9.30" fill="#7157a6"/>
<rect x="250.4" y="426.49" width="16.6" height="9.30" fill="#5d3894"/>
<rect x="250.4" y="435.49" width="16.6" height="9.30" fill="#491981"/>
<rect x="250.4" y="264.4" width="16.6" height="180.1" fill="none" stroke="#404040" stroke-width="0.8"/>
<text x="272.4" y="269.00" font-size="11.7" fill="#262626">0.5</text>
<line x1="267.0" y1="354.45" x2="263.7" y2="354.45" stroke="#404040" stroke-width="0.8"/>
<text x="272.4" y="359.05" font-size="11.7" fill="#262626">0</text>
<text x="272.4" y="449.10" font-size="11.7" fill="#262626">-0.5</text>
<clipPath id="chartclip"><rect x="348.5" y="264.2" width="231.2" height="180.1"/></clipPath>
<g clip-path="url(#chartclip)">
<polygon points="359.5,288.7 370.5,280.8 381.5,255.0 392.5,250.0 403.5,250.0 414.5,255.0 425.5,255.0 436.5,255.0 447.5,276.4 458.5,279.0 469.5,288.7 480.5,311.6 491.5,322.2 502.5,330.0 513.5,340.0 524.5,350.0 535.5,365.0 546.5,378.0 557.5,390.0 568.5,405.0 568.5,428.0 557.5,414.0 546.5,416.0 535.5,398.0 524.5,393.0 513.5,384.0 502.5,375.0 491.5,368.0 480.5,360.0 469.5,345.0 458.5,321.0 447.5,323.0 436.5,317.6 425.5,319.4 414.5,328.5 403.5,310.5 392.5,301.5 381.5,305.5 370.5,349.0 359.5,333.0" fill="#1caa58" fill-opacity="0.2"/>
<polygon points="359.5,324.0 370.5,316.0 381.5,326.6 392.5,317.0 403.5,330.0 414.5,343.2 425.5,345.9 436.5,337.9 447.5,331.8 458.5,324.7 469.5,325.0 480.5,340.0 491.5,340.0 502.5,342.0 513.5,345.0 524.5,352.0 535.5,363.0 546.5,369.0 557.5,363.0 568.5,357.0 568.5,410.0 557.5,405.0 546.5,400.0 535.5,395.0 524.5,390.0 513.5,385.0 502.5,380.0 491.5,378.0 480.5,378.0 469.5,360.0 458.5,356.0 447.5,366.0 436.5,375.0 425.5,383.0 414.5,383.0 403.5,365.0 392.5,352.0 381.5,378.0 370.5,377.0 359.5,409.0" fill="#0fadec" fill-opacity="0.2"/>
<polygon points="359.5,398.1 370.5,390.6 381.5,380.2 392.5,376.4 403.5,378.9 414.5,366.2 425.5,365.8 436.5,363.5 447.5,361.8 458.5,363.3 469.5,336.0 480.5,332.3 491.5,326.1 502.5,315.4 513.5,309.5 524.5,325.2 535.5,321.7 546.5,320.5 557.5,318.2 568.5,323.5 568.5,353.5 557.5,348.2 546.5,350.5 535.5,351.7 524.5,355.2 513.5,339.5 502.5,341.4 491.5,350.1 480.5,356.3 469.5,360.0 458.5,387.3 447.5,381.8 436.5,383.5 425.5,385.8 414.5,386.2 403.5,398.9 392.5,396.4 381.5,416.2 370.5,444.6 359.5,454.1" fill="#3a51a0" fill-opacity="0.2"/>
<polygon points="359.5,337.0 370.5,345.0 381.5,350.0 392.5,352.0 403.5,370.0 414.5,380.0 425.5,390.0 436.5,395.0 447.5,380.0 458.5,321.0 469.5,323.0 480.5,320.0 491.5,315.0 502.5,312.0 513.5,312.0 524.5,297.0 535.5,303.0 546.5,312.0 557.5,312.0 568.5,315.0 568.5,340.0 557.5,335.0 546.5,330.0 535.5,325.0 524.5,323.0 513.5,362.0 502.5,371.0 491.5,382.0 480.5,390.0 469.5,383.0 458.5,400.0 447.5,450.0 436.5,450.0 425.5,450.0 414.5,435.0 403.5,416.0 392.5,397.0 381.5,445.0 370.5,455.0 359.5,455.0" fill="#d95319" fill-opacity="0.2"/>
<line x1="348.5" y1="316.1" x2="579.7" y2="316.1" stroke="#7f7f7f" stroke-width="1.4" stroke-dasharray="8.3 5.73"/>
<polyline points="359.5,426.1 370.5,417.6 381.5,398.2 392.5,386.4 403.5,388.9 414.5,376.2 425.5,375.8 436.5,373.5 447.5,371.8 458.5,375.3 469.5,348.0 480.5,344.3 491.5,338.1 502.5,328.4 513.5,324.5 524.5,340.2 535.5,336.7 546.5,335.5 557.5,333.2 568.5,338.5" fill="none" stroke="#3a51a0" stroke-width="2.8" stroke-linejoin="round"/>
<polyline points="359.5,366.7 370.5,346.2 381.5,352.1 392.5,331.4 403.5,347.6 414.5,363.5 425.5,363.5 436.5,355.0 447.5,346.2 458.5,337.0 469.5,339.0 480.5,357.3 491.5,356.8 502.5,358.5 513.5,363.8 524.5,369.1 535.5,379.7 546.5,384.1 557.5,386.2 568.5,389.0" fill="none" stroke="#0fadec" stroke-width="2.8" stroke-linejoin="round"/>
<polyline points="359.5,396.8 370.5,403.0 381.5,384.1 392.5,372.6 403.5,393.0 414.5,408.0 425.5,419.4 436.5,431.8 447.5,406.2 458.5,347.6 469.5,350.5 480.5,356.8 491.5,350.5 502.5,328.9 513.5,339.0 524.5,309.0 535.5,311.3 546.5,319.6 557.5,322.8 568.5,327.0" fill="none" stroke="#d95319" stroke-width="2.8" stroke-linejoin="round"/>
<polyline points="359.5,310.8 370.5,315.0 381.5,284.0 392.5,283.5 403.5,288.0 414.5,296.0 425.5,289.5 436.5,290.0 447.5,298.0 458.5,306.0 469.5,317.0 480.5,337.0 491.5,345.0 502.5,351.5 513.5,360.3 524.5,371.8 535.5,383.2 546.5,396.5 557.5,404.4 568.5,418.5" fill="none" stroke="#1caa58" stroke-width="3" stroke-dasharray="10.5 10.5"/>
</g>
<path d="M348.5,264.2H579.7M348.5,444.3H579.7" stroke="#404040" stroke-width="0.8"/>
<line x1="348.5" y1="264.2" x2="348.5" y2="444.3" stroke="#2c82c9" stroke-width="0.8"/>
<line x1="579.7" y1="264.2" x2="579.7" y2="444.3" stroke="#d95319" stroke-width="0.8"/>
<path d="M381.5,264.2v2.3M381.5,444.3v-2.3" stroke="#404040" stroke-width="0.8"/>
<path d="M436.5,264.2v2.3M436.5,444.3v-2.3" stroke="#404040" stroke-width="0.8"/>
<path d="M491.5,264.2v2.3M491.5,444.3v-2.3" stroke="#404040" stroke-width="0.8"/>
<path d="M546.5,264.2v2.3M546.5,444.3v-2.3" stroke="#404040" stroke-width="0.8"/>
<line x1="348.5" y1="279.5" x2="350.8" y2="279.5" stroke="#2c82c9" stroke-width="0.8"/>
<text x="344.5" y="283.7" font-size="11.4" fill="#2c82c9" text-anchor="end">2</text>
<line x1="348.5" y1="316.1" x2="350.8" y2="316.1" stroke="#2c82c9" stroke-width="0.8"/>
<text x="344.5" y="320.3" font-size="11.4" fill="#2c82c9" text-anchor="end">0</text>
<line x1="348.5" y1="352.7" x2="350.8" y2="352.7" stroke="#2c82c9" stroke-width="0.8"/>
<text x="344.5" y="356.9" font-size="11.4" fill="#2c82c9" text-anchor="end">-2</text>
<line x1="348.5" y1="389.3" x2="350.8" y2="389.3" stroke="#2c82c9" stroke-width="0.8"/>
<text x="344.5" y="393.5" font-size="11.4" fill="#2c82c9" text-anchor="end">-4</text>
<line x1="348.5" y1="425.9" x2="350.8" y2="425.9" stroke="#2c82c9" stroke-width="0.8"/>
<text x="344.5" y="430.1" font-size="11.4" fill="#2c82c9" text-anchor="end">-6</text>
<line x1="579.7" y1="279.5" x2="577.4" y2="279.5" stroke="#d95319" stroke-width="0.8"/>
<text x="583.8" y="283.7" font-size="11.4" fill="#d95319">0.1</text>
<line x1="579.7" y1="316.1" x2="577.4" y2="316.1" stroke="#d95319" stroke-width="0.8"/>
<text x="583.8" y="320.3" font-size="11.4" fill="#d95319">0</text>
<line x1="579.7" y1="352.7" x2="577.4" y2="352.7" stroke="#d95319" stroke-width="0.8"/>
<text x="583.8" y="356.9" font-size="11.4" fill="#d95319">-0.1</text>
<line x1="579.7" y1="389.3" x2="577.4" y2="389.3" stroke="#d95319" stroke-width="0.8"/>
<text x="583.8" y="393.5" font-size="11.4" fill="#d95319">-0.2</text>
<line x1="579.7" y1="425.9" x2="577.4" y2="425.9" stroke="#d95319" stroke-width="0.8"/>
<text x="583.8" y="430.1" font-size="11.4" fill="#d95319">-0.3</text>
<line x1="639.6" y1="264.7" x2="639.6" y2="444.3" stroke="#2eaa60" stroke-width="0.8"/>
<line x1="639.6" y1="290.5" x2="637.3" y2="290.5" stroke="#2eaa60" stroke-width="0.8"/>
<text x="643.6" y="294.7" font-size="11.4" fill="#2eaa60">0.1</text>
<line x1="639.6" y1="316.2" x2="637.3" y2="316.2" stroke="#2eaa60" stroke-width="0.8"/>
<text x="643.6" y="320.4" font-size="11.4" fill="#2eaa60">0</text>
<line x1="639.6" y1="341.9" x2="637.3" y2="341.9" stroke="#2eaa60" stroke-width="0.8"/>
<text x="643.6" y="346.1" font-size="11.4" fill="#2eaa60">-0.1</text>
<line x1="639.6" y1="367.6" x2="637.3" y2="367.6" stroke="#2eaa60" stroke-width="0.8"/>
<text x="643.6" y="371.8" font-size="11.4" fill="#2eaa60">-0.2</text>
<line x1="639.6" y1="393.3" x2="637.3" y2="393.3" stroke="#2eaa60" stroke-width="0.8"/>
<text x="643.6" y="397.5" font-size="11.4" fill="#2eaa60">-0.3</text>
<line x1="639.6" y1="419.0" x2="637.3" y2="419.0" stroke="#2eaa60" stroke-width="0.8"/>
<text x="643.6" y="423.2" font-size="11.4" fill="#2eaa60">-0.4</text>
<line x1="639.6" y1="444.7" x2="637.3" y2="444.7" stroke="#2eaa60" stroke-width="0.8"/>
<text x="643.6" y="448.9" font-size="11.4" fill="#2eaa60">-0.5</text>
<line x1="639.9" y1="444.3" x2="635.4" y2="444.3" stroke="#262626" stroke-width="0.9"/>
<text x="381.5" y="463.6" font-size="11.3" fill="#262626" text-anchor="middle">15<tspan dy="-4.6" font-size="8.8">o</tspan><tspan dy="4.6">S</tspan></text>
<text x="436.5" y="463.6" font-size="11.3" fill="#262626" text-anchor="middle">10<tspan dy="-4.6" font-size="8.8">o</tspan><tspan dy="4.6">S</tspan></text>
<text x="491.5" y="463.6" font-size="11.3" fill="#262626" text-anchor="middle">5<tspan dy="-4.6" font-size="8.8">o</tspan><tspan dy="4.6">S</tspan></text>
<text x="546.3" y="460" font-size="11.3" fill="#262626" text-anchor="middle">EQ</text>
<text transform="translate(330.6,484.8) rotate(-90)" font-size="12"><tspan fill="#3a56a5">Recycled precip</tspan><tspan fill="#2c82c9" font-size="11.7">or ET trend (mm yr<tspan dy="-5" font-size="9.2">-1</tspan><tspan dy="5"> per year)</tspan></tspan></text>
<text transform="translate(623.2,471.3) rotate(-90)" font-size="12.1" fill="#d95319">Trend in forest cover (percentage point yr<tspan dy="-5.2" font-size="9.6">-1</tspan><tspan dy="5.2">)</tspan></text>
<text transform="translate(682.4,450.9) rotate(-90)" font-size="12.25" fill="#2eaa60">Trend in solar radiation (W m<tspan dy="-5.2" font-size="9.6">-2</tspan><tspan dy="5.2"> yr</tspan><tspan dy="-5.2" font-size="9.6">-1</tspan><tspan dy="5.2">)</tspan></text>
<line x1="351.5" y1="487.4" x2="395.3" y2="487.4" stroke="#3a51a0" stroke-width="2.8"/>
<text x="400.1" y="492" font-size="11.7" fill="#262626">Recycled precip</text>
<line x1="351.5" y1="502.6" x2="395.3" y2="502.6" stroke="#d95319" stroke-width="2.8"/>
<text x="400.1" y="507.2" font-size="11.7" fill="#262626">Forest cover</text>
<line x1="490.9" y1="487.4" x2="535" y2="487.4" stroke="#1caa58" stroke-width="3" stroke-dasharray="10.4 10.8"/>
<text x="539.4" y="492" font-size="11.7" fill="#262626">Solar radiation</text>
<line x1="490.9" y1="502.6" x2="535" y2="502.6" stroke="#0fadec" stroke-width="2.8"/>
<text x="539.4" y="507.2" font-size="11.7" fill="#262626">ET_wb</text>
<text x="0" y="15.6" font-size="13.3" fill="#000"><tspan font-weight="bold">a</tspan> Trend in forest cover</text>
<text x="337.2" y="15.6" font-size="13.3" fill="#000"><tspan font-weight="bold">b</tspan> Trend in ET_wb</text>
<text x="0" y="255.1" font-size="13.3" fill="#000"><tspan font-weight="bold">c</tspan> Trend in solar radiation</text>
<text x="337.2" y="255.3" font-size="13.3" fill="#000"><tspan font-weight="bold">d</tspan> Latitudinal average</text>
<text x="167.4" y="12.5" font-size="11.7" fill="#262626">Percentage point yr<tspan dy="-5.5" font-size="8.8">-1</tspan></text>
<text x="527.7" y="12.5" font-size="11.7" fill="#262626">mm yr<tspan dy="-5.5" font-size="8.8">-1</tspan><tspan dy="5.5"> per year</tspan></text>
<text x="222.4" y="252" font-size="11.7" fill="#262626">W m<tspan dy="-5.5" font-size="8.8">-2</tspan><tspan dy="5.5"> yr</tspan><tspan dy="-5.5" font-size="8.8">-1</tspan></text>
</svg></body></html>
